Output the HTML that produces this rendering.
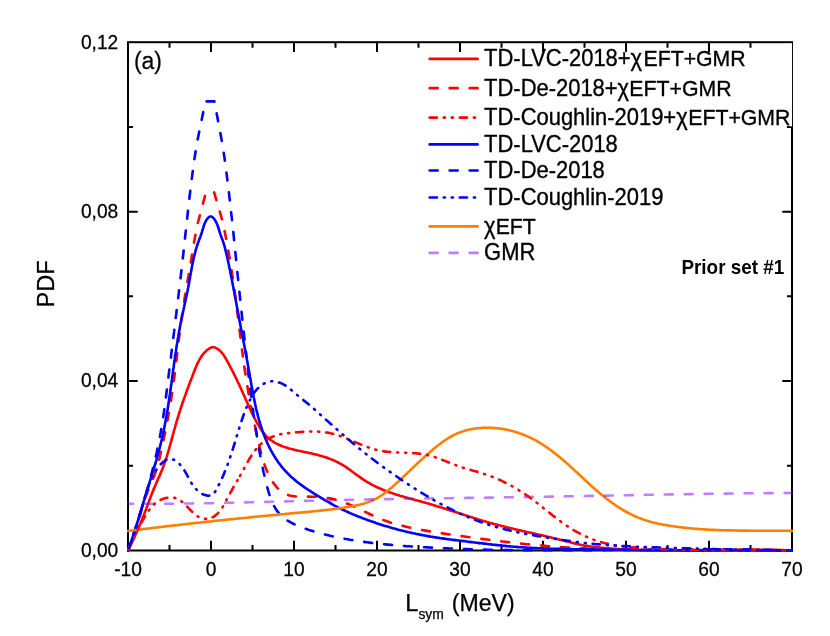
<!DOCTYPE html>
<html><head><meta charset="utf-8"><title>PDF of Lsym</title>
<style>html,body{margin:0;padding:0;background:#fff;}body{width:830px;height:636px;overflow:hidden;position:relative;font-family:"Liberation Sans",sans-serif;}</style>
</head><body>
<svg width="830" height="636" viewBox="0 0 830 636" style="position:absolute;left:0;top:0;opacity:0.999;will-change:transform">
<rect x="0" y="0" width="830" height="636" fill="#fff"/>
<rect x="128.0" y="42.2" width="664.0" height="508.3" fill="none" stroke="#000" stroke-width="2"/>
<path d="M169.50,550.5 v-5.5 M169.50,42.2 v5.5 M211.00,550.5 v-9.8 M211.00,42.2 v9.8 M252.50,550.5 v-5.5 M252.50,42.2 v5.5 M294.00,550.5 v-9.8 M294.00,42.2 v9.8 M335.50,550.5 v-5.5 M335.50,42.2 v5.5 M377.00,550.5 v-9.8 M377.00,42.2 v9.8 M418.50,550.5 v-5.5 M418.50,42.2 v5.5 M460.00,550.5 v-9.8 M460.00,42.2 v9.8 M501.50,550.5 v-5.5 M501.50,42.2 v5.5 M543.00,550.5 v-9.8 M543.00,42.2 v9.8 M584.50,550.5 v-5.5 M584.50,42.2 v5.5 M626.00,550.5 v-9.8 M626.00,42.2 v9.8 M667.50,550.5 v-5.5 M667.50,42.2 v5.5 M709.00,550.5 v-9.8 M709.00,42.2 v9.8 M750.50,550.5 v-5.5 M750.50,42.2 v5.5 M128.0,465.78 h5.1 M792.0,465.78 h-5.1 M128.0,381.07 h9.7 M792.0,381.07 h-9.7 M128.0,296.35 h5.1 M792.0,296.35 h-5.1 M128.0,211.63 h9.7 M792.0,211.63 h-9.7 M128.0,126.92 h5.1 M792.0,126.92 h-5.1" stroke="#000" stroke-width="2" fill="none"/>
<rect x="789.5" y="43.25" width="2.55" height="83.05" fill="#fff"/>
<clipPath id="c"><rect x="127.0" y="41.2" width="666.0" height="510.8"/></clipPath>
<g clip-path="url(#c)" fill="none" stroke-width="2.6" stroke-linecap="round" stroke-linejoin="round">
<path d="M128.0,550.5 L128.6,549.4 L129.1,548.3 L129.7,547.1 L130.2,546.0 L130.8,544.9 L131.3,543.7 L131.9,542.6 L132.4,541.5 L132.9,540.4 L133.5,539.2 L134.0,538.1 L134.5,536.9 L135.0,535.8 L135.5,534.7 L136.1,533.5 L136.6,532.4 L137.1,531.2 L137.6,530.1 L138.1,528.9 L138.6,527.8 L139.1,526.6 L139.5,525.5 L140.0,524.3 L140.5,523.2 L141.0,522.0 L141.5,520.9 L141.9,519.7 L142.4,518.5 L142.9,517.4 L143.3,516.2 L143.8,515.1 L144.3,513.9 L144.7,512.7 L145.2,511.5 L145.6,510.4 L146.1,509.2 L146.5,508.0 L146.9,506.9 L147.4,505.7 L147.8,504.5 L148.2,503.3 L148.7,502.2 L149.1,501.0 L149.6,499.8 L150.0,498.6 L150.4,497.5 L150.9,496.3 L151.3,495.1 L151.8,493.9 L152.3,492.8 L152.7,491.6 L153.2,490.4 L153.7,489.3 L154.1,488.1 L154.6,487.0 L155.1,485.8 L155.6,484.7 L156.1,483.5 L156.6,482.4 L157.1,481.3 L157.6,480.1 L158.1,479.0 L158.6,477.8 L159.2,476.7 L159.7,475.5 L160.2,474.4 L160.6,473.3 L161.1,472.1 L161.6,470.9 L162.1,469.8 L162.5,468.6 L163.0,467.5 L163.4,466.3 L163.9,465.1 L164.3,463.9 L164.7,462.8 L165.1,461.6 L165.5,460.4 L165.9,459.2 L166.3,458.0 L166.7,456.8 L167.0,455.6 L167.4,454.4 L167.8,453.2 L168.1,452.0 L168.5,450.8 L168.8,449.6 L169.2,448.4 L169.5,447.1 L169.9,445.9 L170.2,444.7 L170.5,443.5 L170.9,442.3 L171.2,441.1 L171.5,439.9 L171.9,438.7 L172.2,437.4 L172.5,436.2 L172.8,435.0 L173.2,433.8 L173.5,432.6 L173.8,431.4 L174.2,430.2 L174.5,429.0 L174.9,427.8 L175.2,426.5 L175.5,425.3 L175.9,424.1 L176.2,422.9 L176.6,421.8 L176.9,420.6 L177.3,419.4 L177.7,418.2 L178.0,417.0 L178.4,415.8 L178.8,414.6 L179.1,413.4 L179.5,412.2 L179.9,411.0 L180.3,409.9 L180.7,408.7 L181.0,407.5 L181.4,406.3 L181.8,405.1 L182.2,404.0 L182.6,402.8 L183.0,401.6 L183.4,400.4 L183.8,399.3 L184.2,398.1 L184.7,396.9 L185.1,395.7 L185.5,394.6 L185.9,393.4 L186.3,392.2 L186.8,391.0 L187.2,389.8 L187.6,388.7 L188.1,387.5 L188.5,386.3 L188.9,385.1 L189.4,384.0 L189.8,382.8 L190.3,381.6 L190.7,380.4 L191.2,379.2 L191.6,378.1 L192.1,376.9 L192.5,375.7 L193.0,374.5 L193.4,373.3 L193.9,372.1 L194.4,370.9 L194.9,369.8 L195.3,368.6 L195.8,367.4 L196.3,366.2 L196.8,365.0 L197.3,363.9 L197.9,362.7 L198.4,361.6 L199.0,360.5 L199.6,359.4 L200.2,358.3 L200.9,357.3 L201.6,356.2 L202.3,355.2 L203.0,354.3 L203.8,353.3 L204.6,352.4 L205.5,351.6 L206.4,350.7 L207.3,349.9 L208.3,349.2 L209.3,348.5 L210.4,347.9 L211.5,347.4 L212.7,347.2 L213.9,347.3 L215.1,347.6 L216.2,348.1 L217.4,348.8 L218.4,349.5 L219.4,350.3 L220.3,351.1 L221.2,352.0 L222.0,353.0 L222.8,354.0 L223.6,355.0 L224.3,356.1 L224.9,357.1 L225.6,358.2 L226.2,359.4 L226.8,360.5 L227.5,361.6 L228.1,362.7 L228.7,363.8 L229.3,364.9 L229.9,366.0 L230.4,367.2 L231.0,368.3 L231.6,369.4 L232.2,370.5 L232.8,371.6 L233.3,372.7 L233.9,373.8 L234.4,374.9 L235.0,376.1 L235.5,377.2 L236.1,378.3 L236.6,379.4 L237.2,380.5 L237.7,381.7 L238.2,382.8 L238.8,383.9 L239.3,385.0 L239.8,386.2 L240.3,387.3 L240.9,388.4 L241.4,389.6 L241.9,390.7 L242.4,391.8 L242.9,393.0 L243.4,394.1 L243.9,395.3 L244.4,396.4 L244.9,397.6 L245.4,398.7 L245.9,399.9 L246.5,401.0 L247.0,402.2 L247.5,403.3 L248.0,404.5 L248.5,405.6 L249.0,406.8 L249.6,407.9 L250.1,409.1 L250.6,410.2 L251.1,411.3 L251.7,412.5 L252.2,413.6 L252.8,414.7 L253.3,415.8 L253.9,417.0 L254.5,418.1 L255.1,419.2 L255.7,420.3 L256.2,421.4 L256.8,422.5 L257.5,423.6 L258.1,424.7 L258.7,425.7 L259.4,426.8 L260.0,427.9 L260.7,428.9 L261.4,429.9 L262.1,431.0 L262.8,432.0 L263.6,432.9 L264.3,433.9 L265.1,434.9 L266.0,435.8 L266.8,436.7 L267.7,437.5 L268.7,438.4 L269.7,439.2 L270.7,440.0 L271.7,440.7 L272.8,441.4 L273.9,442.1 L275.0,442.8 L276.1,443.4 L277.2,443.9 L278.3,444.5 L279.5,445.0 L280.6,445.5 L281.8,446.0 L282.9,446.4 L284.1,446.9 L285.3,447.3 L286.5,447.6 L287.7,448.0 L288.9,448.4 L290.1,448.7 L291.3,449.0 L292.5,449.3 L293.7,449.6 L294.9,449.9 L296.1,450.2 L297.3,450.5 L298.6,450.7 L299.8,451.0 L301.0,451.2 L302.2,451.5 L303.5,451.8 L304.7,452.0 L305.9,452.3 L307.1,452.5 L308.4,452.8 L309.6,453.1 L310.8,453.3 L312.0,453.6 L313.2,453.9 L314.5,454.2 L315.7,454.5 L316.9,454.8 L318.1,455.1 L319.3,455.4 L320.5,455.8 L321.7,456.1 L322.9,456.5 L324.1,456.8 L325.3,457.2 L326.5,457.6 L327.7,458.0 L328.9,458.5 L330.0,458.9 L331.2,459.4 L332.4,459.8 L333.5,460.3 L334.7,460.8 L335.8,461.4 L337.0,461.9 L338.1,462.5 L339.2,463.1 L340.3,463.7 L341.4,464.3 L342.5,464.9 L343.6,465.5 L344.6,466.2 L345.7,466.9 L346.7,467.6 L347.7,468.3 L348.8,469.0 L349.8,469.7 L350.8,470.5 L351.8,471.2 L352.8,472.0 L353.8,472.7 L354.8,473.5 L355.8,474.2 L356.8,474.9 L357.8,475.7 L358.8,476.4 L359.8,477.1 L360.9,477.9 L361.9,478.6 L362.9,479.3 L364.0,480.0 L365.1,480.6 L366.1,481.3 L367.2,482.0 L368.3,482.6 L369.4,483.2 L370.5,483.9 L371.6,484.5 L372.7,485.1 L373.8,485.6 L374.9,486.2 L376.0,486.8 L377.2,487.3 L378.3,487.8 L379.5,488.3 L380.6,488.8 L381.7,489.3 L382.9,489.8 L384.1,490.3 L385.2,490.7 L386.4,491.2 L387.6,491.6 L388.7,492.0 L389.9,492.4 L391.1,492.8 L392.3,493.3 L393.5,493.6 L394.6,494.0 L395.8,494.4 L397.0,494.8 L398.2,495.1 L399.4,495.5 L400.6,495.9 L401.8,496.2 L403.0,496.6 L404.2,496.9 L405.4,497.3 L406.6,497.6 L407.9,497.9 L409.1,498.3 L410.3,498.6 L411.5,498.9 L412.7,499.2 L413.9,499.6 L415.1,499.9 L416.3,500.2 L417.5,500.6 L418.8,500.9 L420.0,501.2 L421.2,501.6 L422.4,501.9 L423.6,502.2 L424.8,502.6 L426.0,502.9 L427.2,503.3 L428.4,503.6 L429.6,504.0 L430.8,504.3 L432.0,504.7 L433.2,505.1 L434.4,505.4 L435.6,505.8 L436.8,506.2 L438.0,506.5 L439.2,506.9 L440.4,507.3 L441.6,507.6 L442.8,508.0 L444.0,508.4 L445.2,508.8 L446.3,509.1 L447.5,509.5 L448.7,509.9 L449.9,510.3 L451.1,510.7 L452.3,511.1 L453.5,511.4 L454.7,511.8 L455.9,512.2 L457.1,512.6 L458.3,513.0 L459.4,513.4 L460.6,513.8 L461.8,514.1 L463.0,514.5 L464.2,514.9 L465.4,515.3 L466.6,515.7 L467.8,516.1 L469.0,516.5 L470.2,516.8 L471.4,517.2 L472.6,517.6 L473.8,518.0 L475.0,518.3 L476.2,518.7 L477.3,519.1 L478.5,519.5 L479.7,519.8 L480.9,520.2 L482.1,520.6 L483.3,520.9 L484.5,521.3 L485.7,521.6 L486.9,522.0 L488.1,522.3 L489.4,522.7 L490.6,523.0 L491.8,523.3 L493.0,523.7 L494.2,524.0 L495.4,524.3 L496.6,524.6 L497.8,525.0 L499.0,525.3 L500.2,525.6 L501.4,525.9 L502.7,526.2 L503.9,526.5 L505.1,526.8 L506.3,527.1 L507.5,527.4 L508.7,527.7 L510.0,528.0 L511.2,528.3 L512.4,528.6 L513.6,528.9 L514.8,529.2 L516.0,529.4 L517.3,529.7 L518.5,530.0 L519.7,530.3 L520.9,530.6 L522.1,530.9 L523.4,531.1 L524.6,531.4 L525.8,531.7 L527.0,532.0 L528.3,532.2 L529.5,532.5 L530.7,532.8 L531.9,533.1 L533.1,533.4 L534.4,533.6 L535.6,533.9 L536.8,534.2 L538.0,534.5 L539.2,534.7 L540.5,535.0 L541.7,535.3 L542.9,535.6 L544.1,535.9 L545.3,536.1 L546.6,536.4 L547.8,536.7 L549.0,537.0 L550.2,537.3 L551.4,537.6 L552.7,537.9 L553.9,538.2 L555.1,538.5 L556.3,538.8 L557.5,539.1 L558.7,539.4 L560.0,539.7 L561.2,540.0 L562.4,540.3 L563.6,540.6 L564.8,540.9 L566.0,541.2 L567.2,541.5 L568.5,541.8 L569.7,542.1 L570.9,542.5 L572.1,542.8 L573.3,543.1 L574.5,543.4 L575.8,543.6 L577.0,543.9 L578.2,544.2 L579.4,544.5 L580.6,544.7 L581.9,545.0 L583.1,545.2 L584.3,545.5 L585.6,545.7 L586.8,545.9 L588.0,546.1 L589.3,546.3 L590.5,546.5 L591.7,546.7 L593.0,546.8 L594.2,547.0 L595.5,547.1 L596.7,547.3 L598.0,547.4 L599.2,547.5 L600.4,547.7 L601.7,547.8 L602.9,547.9 L604.2,548.0 L605.4,548.1 L606.7,548.2 L607.9,548.3 L609.2,548.4 L610.4,548.5 L611.7,548.6 L612.9,548.7 L614.2,548.8 L615.4,548.9 L616.7,549.0 L617.9,549.0 L619.2,549.1 L620.4,549.2 L621.7,549.3 L622.9,549.3 L624.2,549.4 L625.4,549.5 L626.7,549.5 L627.9,549.6 L629.2,549.6 L630.4,549.7 L631.7,549.8 L632.9,549.8 L634.2,549.9 L635.4,549.9 L636.7,549.9 L637.9,550.0 L639.2,550.0 L640.4,550.1 L641.7,550.1 L643.0,550.1 L644.2,550.2 L645.5,550.2 L646.7,550.2 L648.0,550.2 L649.2,550.3 L650.5,550.3 L651.7,550.3 L653.0,550.3 L654.2,550.3 L655.5,550.4 L656.7,550.4 L658.0,550.4 L659.2,550.4 L660.5,550.4 L661.7,550.4 L663.0,550.4 L664.2,550.4 L665.5,550.4 L666.7,550.4 L668.0,550.4 L669.3,550.4 L670.5,550.4 L671.8,550.4 L673.0,550.4 L674.3,550.4 L675.5,550.4 L676.8,550.4 L678.0,550.4 L679.3,550.4 L680.5,550.4 L681.8,550.4 L683.0,550.4 L684.3,550.3 L685.5,550.3 L686.8,550.3 L688.1,550.3 L689.3,550.3 L690.6,550.3 L691.8,550.3 L693.1,550.3 L694.3,550.2 L695.6,550.2 L696.8,550.2 L698.1,550.2 L699.3,550.2 L700.6,550.1 L701.8,550.1 L703.1,550.1 L704.4,550.1 L705.6,550.1 L706.9,550.1 L708.1,550.0 L709.4,550.0 L710.6,550.0 L711.9,550.0 L713.1,550.0 L714.4,549.9 L715.6,549.9 L716.9,549.9 L718.1,549.9 L719.4,549.9 L720.6,549.8 L721.9,549.8 L723.2,549.8 L724.4,549.8 L725.7,549.8 L726.9,549.8 L728.2,549.8 L729.4,549.7 L730.7,549.7 L731.9,549.7 L733.2,549.7 L734.4,549.7 L735.7,549.7 L736.9,549.7 L738.2,549.7 L739.4,549.6 L740.7,549.6 L742.0,549.6 L743.2,549.6 L744.5,549.6 L745.7,549.6 L747.0,549.6 L748.2,549.6 L749.5,549.6 L750.7,549.6 L752.0,549.6 L753.2,549.6 L754.5,549.6 L755.7,549.6 L757.0,549.6 L758.2,549.6 L759.5,549.6 L760.7,549.7 L762.0,549.7 L763.2,549.7 L764.5,549.7 L765.7,549.7 L767.0,549.7 L768.2,549.7 L769.5,549.8 L770.7,549.8 L772.0,549.8 L773.2,549.8 L774.5,549.9 L775.8,549.9 L777.0,549.9 L778.3,550.0 L779.5,550.0 L780.8,550.1 L782.0,550.1 L783.3,550.1 L784.5,550.2 L785.8,550.2 L787.0,550.3 L788.3,550.3 L789.5,550.4 L790.8,550.4 L792.0,550.5" stroke="#ff0000"/>
<path d="M128.0,550.5 L128.8,548.9 L129.6,547.4 L130.3,545.8 L131.0,544.2 L131.7,542.6 L132.3,541.0 L132.9,539.4 L133.5,537.8 L134.1,536.2 L134.6,534.5 L135.2,532.9 L135.7,531.2 L136.2,529.6 L136.7,527.9 L137.1,526.3 L137.6,524.6 L138.0,522.9 L138.5,521.3 L138.9,519.6 L139.4,517.9 L139.8,516.3 L140.3,514.6 L140.7,512.9 L141.2,511.3 L141.6,509.6 L142.1,507.9 L142.6,506.3 L143.1,504.6 L143.6,503.0 L144.1,501.3 L144.7,499.7 L145.2,498.1 L145.8,496.4 L146.4,494.8 L147.0,493.2 L147.7,491.6 L148.3,490.0 L149.0,488.4 L149.7,486.8 L150.4,485.2 L151.0,483.6 L151.7,482.0 L152.4,480.4 L153.0,478.8 L153.6,477.2 L154.3,475.6 L154.9,474.0 L155.4,472.4 L156.0,470.7 L156.5,469.1 L157.0,467.5 L157.5,465.8 L157.9,464.1 L158.4,462.5 L158.8,460.8 L159.3,459.1 L159.7,457.5 L160.1,455.8 L160.5,454.1 L160.8,452.4 L161.2,450.7 L161.6,449.1 L162.0,447.4 L162.3,445.7 L162.7,444.0 L163.1,442.3 L163.4,440.6 L163.8,438.9 L164.1,437.2 L164.5,435.5 L164.8,433.9 L165.2,432.2 L165.5,430.5 L165.8,428.8 L166.2,427.1 L166.5,425.4 L166.8,423.7 L167.2,422.0 L167.5,420.3 L167.8,418.6 L168.1,416.9 L168.4,415.2 L168.7,413.5 L169.1,411.8 L169.3,410.1 L169.6,408.4 L169.9,406.7 L170.2,405.0 L170.5,403.3 L170.8,401.6 L171.1,399.9 L171.3,398.2 L171.6,396.5 L171.8,394.8 L172.1,393.1 L172.4,391.4 L172.6,389.7 L172.8,388.0 L173.1,386.3 L173.3,384.6 L173.6,382.9 L173.8,381.2 L174.0,379.4 L174.2,377.7 L174.5,376.0 L174.7,374.3 L174.9,372.6 L175.1,370.9 L175.3,369.2 L175.5,367.5 L175.7,365.7 L176.0,364.0 L176.2,362.3 L176.4,360.6 L176.6,358.9 L176.8,357.2 L177.0,355.5 L177.2,353.8 L177.4,352.0 L177.6,350.3 L177.8,348.6 L178.0,346.9 L178.2,345.2 L178.4,343.5 L178.6,341.8 L178.8,340.0 L179.0,338.3 L179.2,336.6 L179.5,334.9 L179.7,333.2 L179.9,331.5 L180.1,329.8 L180.3,328.0 L180.5,326.3 L180.8,324.6 L181.0,322.9 L181.2,321.2 L181.5,319.5 L181.7,317.8 L181.9,316.1 L182.2,314.4 L182.4,312.7 L182.7,311.0 L182.9,309.2 L183.2,307.5 L183.5,305.8 L183.7,304.1 L184.0,302.4 L184.3,300.7 L184.5,299.0 L184.8,297.3 L185.1,295.6 L185.4,293.9 L185.7,292.2 L186.0,290.5 L186.2,288.8 L186.5,287.1 L186.8,285.4 L187.1,283.7 L187.4,282.0 L187.7,280.3 L188.0,278.6 L188.3,276.9 L188.6,275.2 L188.8,273.5 L189.1,271.8 L189.4,270.1 L189.7,268.4 L190.0,266.7 L190.3,265.0 L190.6,263.3 L190.9,261.6 L191.2,259.9 L191.5,258.2 L191.7,256.5 L192.0,254.8 L192.3,253.1 L192.6,251.4 L192.9,249.7 L193.2,248.0 L193.4,246.2 L193.7,244.5 L194.0,242.8 L194.3,241.1 L194.6,239.4 L194.9,237.7 L195.2,236.0 L195.5,234.3 L195.8,232.7 L196.1,231.0 L196.4,229.3 L196.8,227.6 L197.1,225.9 L197.2,225.4 L205.5,194.0 L213.8,191.2 L222.1,219.6 L222.2,220.1 L222.6,221.8 L223.0,223.5 L223.3,225.2 L223.7,226.9 L224.1,228.6 L224.4,230.3 L224.8,232.0 L225.1,233.7 L225.5,235.4 L225.8,237.0 L226.1,238.7 L226.5,240.4 L226.8,242.1 L227.1,243.8 L227.4,245.5 L227.7,247.2 L228.0,248.9 L228.3,250.6 L228.6,252.3 L228.9,254.0 L229.2,255.7 L229.5,257.4 L229.8,259.1 L230.1,260.8 L230.4,262.5 L230.6,264.2 L230.9,265.9 L231.2,267.6 L231.4,269.3 L231.7,271.0 L232.0,272.7 L232.2,274.4 L232.5,276.1 L232.7,277.8 L233.0,279.6 L233.2,281.3 L233.5,283.0 L233.7,284.7 L234.0,286.4 L234.2,288.1 L234.4,289.8 L234.7,291.5 L234.9,293.2 L235.1,294.9 L235.3,296.6 L235.6,298.3 L235.8,300.0 L236.0,301.8 L236.2,303.5 L236.5,305.2 L236.7,306.9 L236.9,308.6 L237.1,310.3 L237.3,312.0 L237.5,313.7 L237.7,315.4 L238.0,317.2 L238.2,318.9 L238.4,320.6 L238.6,322.3 L238.8,324.0 L239.0,325.7 L239.2,327.4 L239.4,329.1 L239.6,330.9 L239.9,332.6 L240.1,334.3 L240.3,336.0 L240.5,337.7 L240.7,339.4 L240.9,341.1 L241.1,342.8 L241.4,344.6 L241.6,346.3 L241.8,348.0 L242.0,349.7 L242.2,351.4 L242.5,353.1 L242.7,354.8 L242.9,356.5" stroke="#ff0000" stroke-dasharray="8.0 12.0" stroke-dashoffset="3.80"/>
<path d="M242.9,356.5 L243.2,358.2 L243.4,360.0 L243.6,361.7 L243.9,363.4 L244.1,365.1 L244.3,366.8 L244.6,368.5 L244.8,370.2 L245.1,371.9 L245.3,373.6 L245.6,375.3 L245.9,377.1 L246.1,378.8 L246.4,380.5 L246.7,382.2 L246.9,383.9 L247.2,385.6 L247.5,387.3 L247.8,389.0 L248.1,390.7 L248.4,392.4 L248.7,394.1 L249.0,395.8 L249.3,397.5 L249.6,399.2 L249.9,400.9 L250.2,402.6 L250.5,404.3 L250.8,406.0 L251.2,407.7 L251.5,409.4 L251.8,411.1 L252.2,412.8 L252.5,414.5 L252.8,416.2 L253.2,417.9 L253.5,419.6 L253.9,421.3 L254.2,423.0 L254.6,424.6 L255.0,426.3 L255.3,428.0 L255.7,429.7 L256.1,431.4 L256.4,433.1 L256.8,434.7 L257.2,436.4 L257.6,438.1 L258.0,439.8 L258.3,441.4 L258.7,443.1 L259.1,444.8 L259.5,446.5 L259.9,448.1 L260.3,449.8 L260.7,451.5 L261.1,453.1 L261.6,454.8 L262.0,456.4 L262.5,458.1 L263.0,459.7 L263.4,461.4 L264.0,463.0 L264.5,464.6 L265.1,466.3 L265.7,467.9 L266.3,469.5 L267.0,471.1 L267.7,472.8 L268.5,474.4 L269.2,476.0 L270.1,477.5 L270.9,479.1 L271.9,480.6 L272.8,482.1 L273.8,483.5 L274.9,484.9 L276.0,486.3 L277.1,487.6 L278.3,488.8 L279.6,489.9 L280.8,491.0 L282.2,492.0 L283.6,492.9 L285.0,493.7 L286.5,494.4 L288.0,494.9 L289.6,495.4 L291.3,495.8 L293.0,496.1 L294.7,496.3 L296.4,496.5 L298.2,496.6 L300.0,496.6 L301.8,496.6 L303.6,496.6 L305.4,496.6 L307.2,496.6 L308.9,496.6 L310.7,496.7 L312.5,496.7 L314.2,496.7 L315.9,496.8 L317.7,496.9 L319.4,497.0 L321.1,497.2 L322.8,497.3 L324.5,497.5 L326.1,497.7 L327.8,498.0 L329.5,498.3 L331.1,498.6 L332.8,498.9 L334.5,499.3 L336.1,499.8 L337.8,500.2 L339.4,500.7 L341.0,501.3 L342.7,501.9 L344.3,502.5 L345.9,503.1 L347.6,503.7 L349.2,504.4 L350.8,505.1 L352.4,505.8 L354.0,506.5 L355.5,507.3 L357.1,508.0 L358.7,508.7 L360.2,509.5 L361.8,510.2 L363.3,511.0 L364.9,511.7 L366.4,512.5 L368.0,513.2 L369.5,514.0 L371.1,514.7 L372.6,515.4 L374.2,516.2 L375.7,516.9 L377.3,517.5 L378.9,518.2 L380.4,518.9 L382.0,519.5 L383.6,520.1 L385.2,520.7 L386.9,521.3 L388.5,521.8 L390.2,522.4 L391.8,522.9 L393.5,523.4 L395.1,523.9 L396.8,524.4 L398.5,524.8 L400.2,525.2 L401.9,525.7 L403.5,526.1 L405.2,526.5 L406.9,526.9 L408.6,527.3 L410.3,527.7 L412.0,528.0 L413.7,528.4 L415.3,528.7 L417.0,529.1 L418.7,529.4 L420.4,529.7 L422.1,530.0 L423.8,530.3 L425.5,530.6 L427.2,530.9 L428.9,531.2 L430.6,531.5 L432.3,531.8 L434.0,532.0 L435.7,532.3 L437.4,532.6 L439.1,532.8 L440.8,533.1 L442.5,533.4 L444.2,533.6 L445.9,533.9 L447.6,534.1 L449.3,534.4 L451.0,534.6 L452.7,534.8 L454.4,535.1 L456.2,535.3 L457.9,535.6 L459.6,535.8 L461.3,536.1 L463.0,536.3 L464.7,536.5 L466.4,536.8 L468.1,537.0 L469.8,537.2 L471.5,537.5 L473.2,537.7 L474.9,537.9 L476.6,538.2 L478.4,538.4 L480.1,538.6 L481.8,538.9 L483.5,539.1 L485.2,539.3 L486.9,539.5 L488.6,539.8 L490.3,540.0 L492.1,540.2 L493.8,540.4 L495.5,540.6 L497.2,540.8 L498.9,541.1 L500.6,541.3 L502.3,541.5 L504.0,541.7 L505.8,541.9 L507.5,542.1 L509.2,542.3 L510.9,542.5 L512.6,542.7 L514.3,542.9 L516.1,543.1 L517.8,543.2 L519.5,543.4 L521.2,543.6 L522.9,543.8 L524.6,544.0 L526.4,544.2 L528.1,544.3 L529.8,544.5 L531.5,544.7 L533.2,544.8 L534.9,545.0 L536.7,545.2 L538.4,545.3 L540.1,545.5 L541.8,545.6 L543.5,545.8 L545.3,545.9 L547.0,546.1 L548.7,546.2 L550.4,546.3 L552.1,546.5 L553.9,546.6 L555.6,546.7 L557.3,546.9 L559.0,547.0 L560.8,547.1 L562.5,547.2 L564.2,547.3 L565.9,547.5 L567.6,547.6 L569.4,547.7 L571.1,547.8 L572.8,547.9 L574.5,548.0 L576.3,548.1 L578.0,548.2 L579.7,548.3 L581.4,548.3 L583.1,548.4 L584.9,548.5 L586.6,548.6 L588.3,548.7 L590.0,548.7 L591.8,548.8 L593.5,548.9 L595.2,549.0 L596.9,549.0 L598.7,549.1 L600.4,549.2 L602.1,549.2 L603.8,549.3 L605.6,549.3 L607.3,549.4 L609.0,549.5 L610.7,549.5 L612.5,549.6 L614.2,549.6 L615.9,549.6 L617.6,549.7 L619.4,549.7 L621.1,549.8 L622.8,549.8 L624.6,549.9 L626.3,549.9 L628.0,549.9 L629.7,550.0 L631.5,550.0 L633.2,550.0 L634.9,550.0 L636.6,550.1 L638.4,550.1 L640.1,550.1 L641.8,550.1 L643.5,550.2 L645.3,550.2 L647.0,550.2 L648.7,550.2 L650.5,550.2 L652.2,550.3 L653.9,550.3 L655.6,550.3 L657.4,550.3 L659.1,550.3 L660.8,550.3 L662.5,550.3 L664.3,550.3 L666.0,550.3 L667.7,550.3 L669.5,550.3 L671.2,550.4 L672.9,550.4 L674.6,550.4 L676.4,550.4 L678.1,550.4 L679.8,550.4 L681.6,550.4 L683.3,550.4 L685.0,550.4 L686.7,550.4 L688.5,550.4 L690.2,550.4 L691.9,550.4 L693.6,550.4 L695.4,550.3 L697.1,550.3 L698.8,550.3 L700.6,550.3 L702.3,550.3 L704.0,550.3 L705.7,550.3 L707.5,550.3 L709.2,550.3 L710.9,550.3 L712.6,550.3 L714.4,550.3 L716.1,550.3 L717.8,550.3 L719.6,550.3 L721.3,550.3 L723.0,550.3 L724.7,550.3 L726.5,550.3 L728.2,550.2 L729.9,550.2 L731.6,550.2 L733.4,550.2 L735.1,550.2 L736.8,550.2 L738.5,550.2 L740.3,550.2 L742.0,550.2 L743.7,550.2 L745.5,550.2 L747.2,550.2 L748.9,550.2 L750.6,550.2 L752.4,550.2 L754.1,550.2 L755.8,550.2 L757.5,550.2 L759.3,550.2 L761.0,550.2 L762.7,550.2 L764.4,550.2 L766.2,550.3 L767.9,550.3 L769.6,550.3 L771.3,550.3 L773.0,550.3 L774.8,550.3 L776.5,550.3 L778.2,550.3 L779.9,550.4 L781.7,550.4 L783.4,550.4 L785.1,550.4 L786.8,550.4 L788.6,550.5 L790.3,550.5 L792.0,550.5" stroke="#ff0000" stroke-dasharray="8.0 12.0" stroke-dashoffset="9.86"/>
<path d="M128.0,550.5 L128.6,549.0 L129.1,547.4 L129.7,545.9 L130.2,544.4 L130.7,542.8 L131.3,541.3 L131.8,539.7 L132.3,538.2 L132.8,536.6 L133.4,535.1 L133.9,533.5 L134.4,532.0 L134.9,530.4 L135.4,528.9 L135.8,527.3 L136.3,525.8 L136.8,524.2 L137.3,522.7 L137.8,521.1 L138.3,519.6 L138.7,518.0 L139.2,516.5 L139.7,514.9 L140.1,513.3 L140.6,511.8 L141.1,510.2 L141.6,508.7 L142.0,507.1 L142.5,505.5 L143.0,504.0 L143.4,502.4 L143.9,500.9 L144.4,499.3 L144.8,497.8 L145.3,496.2 L145.8,494.6 L146.3,493.1 L146.8,491.5 L147.2,490.0 L147.7,488.4 L148.2,486.8 L148.7,485.3 L149.2,483.7 L149.7,482.2 L150.1,480.6 L150.6,479.1 L151.1,477.5 L151.6,475.9 L152.1,474.4 L152.5,472.8 L153.0,471.3 L153.5,469.7 L154.0,468.1 L154.4,466.6 L154.9,465.0 L155.4,463.5 L155.8,461.9 L156.3,460.3 L156.7,458.8 L157.2,457.2 L157.6,455.6 L158.1,454.1 L158.5,452.5 L158.9,450.9 L159.3,449.3 L159.7,447.8 L160.1,446.2 L160.5,444.6 L160.9,443.0 L161.3,441.4 L161.7,439.9 L162.1,438.3 L162.4,436.7 L162.8,435.1 L163.1,433.5 L163.5,431.9 L163.8,430.3 L164.1,428.7 L164.4,427.1 L164.7,425.5 L165.0,423.9 L165.3,422.3 L165.6,420.7 L165.9,419.1 L166.2,417.5 L166.5,415.9 L166.8,414.3 L167.0,412.7 L167.3,411.1 L167.6,409.5 L167.8,407.9 L168.1,406.3 L168.3,404.7 L168.6,403.1 L168.8,401.4 L169.1,399.8 L169.3,398.2 L169.5,396.6 L169.8,395.0 L170.0,393.4 L170.2,391.8 L170.5,390.1 L170.7,388.5 L170.9,386.9 L171.1,385.3 L171.4,383.7 L171.6,382.1 L171.8,380.4 L172.0,378.8 L172.2,377.2 L172.5,375.6 L172.7,374.0 L172.9,372.4 L173.1,370.7 L173.3,369.1 L173.6,367.5 L173.8,365.9 L174.0,364.3 L174.2,362.7 L174.5,361.1 L174.7,359.4 L174.9,357.8 L175.1,356.2 L175.4,354.6 L175.6,353.0 L175.9,351.4 L176.1,349.8 L176.3,348.2 L176.6,346.6 L176.8,345.0 L177.1,343.4 L177.4,341.7 L177.6,340.1 L177.9,338.5 L178.2,336.9 L178.4,335.3 L178.7,333.7 L179.0,332.1 L179.3,330.5 L179.6,328.9 L179.9,327.3 L180.2,325.7 L180.5,324.1 L180.8,322.5 L181.1,320.9 L181.4,319.3 L181.8,317.7 L182.1,316.2 L182.4,314.6 L182.8,313.0 L183.1,311.4 L183.5,309.8 L183.8,308.2 L184.2,306.6 L184.5,305.0 L184.9,303.4 L185.2,301.8 L185.6,300.2 L185.9,298.6 L186.2,297.1 L186.6,295.5 L186.9,293.9 L187.2,292.3 L187.6,290.7 L187.9,289.1 L188.2,287.5 L188.5,285.9 L188.8,284.3 L189.1,282.7 L189.4,281.0 L189.7,279.4 L190.0,277.8 L190.2,276.2 L190.5,274.6 L190.8,273.0 L191.1,271.4 L191.4,269.8 L191.7,268.2 L192.0,266.6 L192.3,265.0 L192.6,263.4 L193.0,261.8 L193.3,260.2 L193.6,258.6 L194.0,257.0 L194.4,255.5 L194.8,253.9 L195.2,252.3 L195.6,250.7 L196.0,249.2 L196.5,247.6 L197.0,246.1 L197.5,244.5 L198.0,243.0 L198.6,241.4 L199.1,239.9 L199.7,238.4 L200.3,236.9 L200.8,235.3 L201.4,233.8 L201.9,232.2 L202.3,230.7 L202.8,229.1 L203.3,227.6 L203.7,226.0 L204.3,224.4 L205.0,222.8 L205.7,221.3 L206.6,219.7 L207.7,218.3 L208.8,217.2 L210.0,216.5 L211.2,216.5 L212.4,217.1 L213.6,218.2 L214.6,219.6 L215.6,221.1 L216.4,222.7 L217.1,224.3 L217.7,225.8 L218.3,227.4 L218.7,229.0 L219.2,230.5 L219.7,232.1 L220.2,233.6 L220.7,235.1 L221.3,236.7 L221.8,238.2 L222.4,239.7 L222.9,241.2 L223.4,242.7 L223.9,244.3 L224.4,245.8 L224.8,247.4 L225.2,249.0 L225.6,250.6 L226.0,252.2 L226.4,253.8 L226.8,255.4 L227.1,257.0 L227.5,258.5 L227.8,260.1 L228.2,261.7 L228.5,263.3 L228.9,264.9 L229.2,266.5 L229.5,268.1 L229.9,269.7 L230.2,271.3 L230.5,272.9 L230.8,274.5 L231.1,276.1 L231.5,277.7 L231.8,279.3 L232.1,280.9 L232.4,282.5 L232.7,284.1 L233.0,285.7 L233.3,287.3 L233.6,288.9 L233.9,290.5 L234.2,292.1 L234.5,293.7 L234.8,295.3 L235.1,296.9 L235.4,298.5 L235.7,300.1 L236.0,301.7 L236.3,303.3 L236.6,304.9 L236.9,306.5 L237.2,308.1 L237.5,309.7 L237.8,311.3 L238.1,312.9 L238.4,314.5 L238.7,316.1 L239.0,317.7 L239.3,319.3 L239.6,320.9 L239.9,322.5 L240.2,324.1 L240.5,325.7 L240.8,327.3 L241.1,328.9 L241.4,330.5 L241.7,332.1 L242.0,333.7 L242.3,335.3 L242.7,337.0 L243.0,338.6 L243.3,340.2 L243.6,341.8 L243.9,343.4 L244.2,345.0 L244.5,346.6 L244.8,348.2 L245.1,349.8 L245.4,351.4 L245.7,353.0 L246.0,354.6 L246.3,356.2 L246.6,357.8 L246.9,359.4 L247.2,361.0 L247.5,362.6 L247.8,364.2 L248.1,365.8 L248.4,367.4 L248.6,369.0 L248.9,370.6 L249.2,372.2 L249.5,373.8 L249.8,375.4 L250.0,377.0 L250.3,378.5 L250.6,380.1 L250.9,381.7 L251.1,383.3 L251.4,384.9 L251.7,386.5 L252.0,388.1 L252.3,389.7 L252.6,391.3 L252.9,392.9 L253.2,394.5 L253.5,396.2 L253.8,397.8 L254.2,399.4 L254.5,401.0 L254.8,402.6 L255.2,404.2 L255.5,405.8 L255.9,407.4 L256.2,409.0 L256.6,410.6 L257.0,412.1 L257.4,413.7 L257.8,415.3 L258.2,416.9 L258.7,418.5 L259.1,420.1 L259.6,421.6 L260.0,423.2 L260.5,424.8 L261.0,426.3 L261.5,427.9 L262.0,429.4 L262.5,430.9 L263.1,432.5 L263.6,434.0 L264.2,435.5 L264.8,437.0 L265.4,438.5 L266.0,440.0 L266.7,441.5 L267.3,443.0 L268.0,444.5 L268.7,445.9 L269.4,447.4 L270.2,448.8 L270.9,450.3 L271.7,451.7 L272.5,453.1 L273.3,454.5 L274.1,455.9 L275.0,457.3 L275.9,458.7 L276.8,460.0 L277.7,461.4 L278.6,462.7 L279.6,464.0 L280.6,465.3 L281.6,466.6 L282.6,467.9 L283.7,469.1 L284.8,470.3 L285.9,471.5 L287.0,472.7 L288.1,473.9 L289.3,475.0 L290.4,476.1 L291.6,477.2 L292.9,478.3 L294.1,479.4 L295.4,480.4 L296.6,481.5 L297.9,482.5 L299.2,483.5 L300.5,484.4 L301.8,485.4 L303.2,486.4 L304.5,487.3 L305.9,488.2 L307.2,489.1 L308.6,490.0 L310.0,490.9 L311.3,491.8 L312.7,492.7 L314.1,493.6 L315.5,494.4 L316.9,495.3 L318.3,496.1 L319.7,497.0 L321.1,497.8 L322.5,498.7 L323.9,499.5 L325.3,500.3 L326.7,501.1 L328.1,501.9 L329.5,502.7 L330.9,503.5 L332.3,504.3 L333.7,505.1 L335.2,505.9 L336.6,506.6 L338.0,507.4 L339.5,508.1 L340.9,508.8 L342.4,509.5 L343.9,510.2 L345.3,510.9 L346.8,511.6 L348.3,512.3 L349.8,513.0 L351.3,513.6 L352.8,514.3 L354.3,514.9 L355.8,515.5 L357.3,516.1 L358.8,516.7 L360.4,517.3 L361.9,517.9 L363.4,518.5 L364.9,519.1 L366.5,519.6 L368.0,520.2 L369.6,520.7 L371.1,521.3 L372.6,521.8 L374.2,522.3 L375.7,522.9 L377.3,523.4 L378.8,523.9 L380.4,524.4 L381.9,524.9 L383.5,525.4 L385.0,525.9 L386.6,526.3 L388.2,526.8 L389.7,527.3 L391.3,527.7 L392.8,528.2 L394.4,528.6 L396.0,529.0 L397.5,529.5 L399.1,529.9 L400.7,530.3 L402.3,530.7 L403.8,531.1 L405.4,531.5 L407.0,531.9 L408.6,532.2 L410.2,532.6 L411.8,532.9 L413.4,533.3 L414.9,533.6 L416.5,534.0 L418.1,534.3 L419.7,534.6 L421.3,534.9 L422.9,535.2 L424.5,535.5 L426.1,535.8 L427.7,536.1 L429.3,536.4 L430.9,536.7 L432.5,536.9 L434.2,537.2 L435.8,537.4 L437.4,537.7 L439.0,537.9 L440.6,538.2 L442.2,538.4 L443.8,538.6 L445.4,538.8 L447.1,539.1 L448.7,539.3 L450.3,539.5 L451.9,539.7 L453.5,539.9 L455.2,540.1 L456.8,540.3 L458.4,540.5 L460.0,540.7 L461.6,540.9 L463.3,541.1 L464.9,541.3 L466.5,541.5 L468.1,541.7 L469.7,541.9 L471.4,542.1 L473.0,542.3 L474.6,542.5 L476.2,542.7 L477.8,542.9 L479.4,543.1 L481.1,543.3 L482.7,543.4 L484.3,543.6 L485.9,543.8 L487.5,544.0 L489.2,544.2 L490.8,544.4 L492.4,544.6 L494.0,544.7 L495.6,544.9 L497.2,545.1 L498.9,545.3 L500.5,545.4 L502.1,545.6 L503.7,545.8 L505.3,545.9 L507.0,546.1 L508.6,546.2 L510.2,546.4 L511.8,546.5 L513.4,546.7 L515.1,546.8 L516.7,546.9 L518.3,547.1 L519.9,547.2 L521.6,547.3 L523.2,547.4 L524.8,547.5 L526.4,547.6 L528.1,547.7 L529.7,547.8 L531.3,547.9 L532.9,548.0 L534.6,548.1 L536.2,548.1 L537.8,548.2 L539.4,548.3 L541.1,548.3 L542.7,548.4 L544.3,548.5 L546.0,548.5 L547.6,548.6 L549.2,548.6 L550.8,548.7 L552.5,548.7 L554.1,548.8 L555.7,548.8 L557.4,548.9 L559.0,548.9 L560.6,548.9 L562.3,549.0 L563.9,549.0 L565.5,549.0 L567.1,549.1 L568.8,549.1 L570.4,549.1 L572.0,549.1 L573.7,549.2 L575.3,549.2 L576.9,549.2 L578.6,549.2 L580.2,549.3 L581.8,549.3 L583.4,549.3 L585.1,549.3 L586.7,549.3 L588.3,549.4 L590.0,549.4 L591.6,549.4 L593.2,549.4 L594.9,549.5 L596.5,549.5 L598.1,549.5 L599.8,549.5 L601.4,549.5 L603.0,549.6 L604.6,549.6 L606.3,549.6 L607.9,549.6 L609.5,549.7 L611.2,549.7 L612.8,549.7 L614.4,549.7 L616.0,549.7 L617.7,549.8 L619.3,549.8 L620.9,549.8 L622.6,549.8 L624.2,549.8 L625.8,549.8 L627.5,549.9 L629.1,549.9 L630.7,549.9 L632.3,549.9 L634.0,549.9 L635.6,550.0 L637.2,550.0 L638.9,550.0 L640.5,550.0 L642.1,550.0 L643.7,550.0 L645.4,550.0 L647.0,550.1 L648.6,550.1 L650.3,550.1 L651.9,550.1 L653.5,550.1 L655.1,550.1 L656.8,550.2 L658.4,550.2 L660.0,550.2 L661.7,550.2 L663.3,550.2 L664.9,550.2 L666.5,550.2 L668.2,550.2 L669.8,550.3 L671.4,550.3 L673.1,550.3 L674.7,550.3 L676.3,550.3 L677.9,550.3 L679.6,550.3 L681.2,550.3 L682.8,550.4 L684.5,550.4 L686.1,550.4 L687.7,550.4 L689.3,550.4 L691.0,550.4 L692.6,550.4 L694.2,550.4 L695.9,550.4 L697.5,550.4 L699.1,550.5 L700.7,550.5 L702.4,550.5 L704.0,550.5 L705.6,550.5 L707.3,550.5 L708.9,550.5 L710.5,550.5 L712.1,550.5 L713.8,550.5 L715.4,550.5 L717.0,550.5 L718.7,550.5 L720.3,550.5 L721.9,550.5 L723.5,550.5 L725.2,550.5 L726.8,550.5 L728.4,550.5 L730.1,550.5 L731.7,550.5 L733.3,550.5 L734.9,550.5 L736.6,550.5 L738.2,550.5 L739.8,550.5 L741.5,550.5 L743.1,550.5 L744.7,550.5 L746.4,550.5 L748.0,550.5 L749.6,550.5 L751.2,550.5 L752.9,550.5 L754.5,550.5 L756.1,550.5 L757.8,550.5 L759.4,550.5 L761.0,550.5 L762.7,550.5 L764.3,550.5 L765.9,550.5 L767.5,550.5 L769.2,550.5 L770.8,550.5 L772.4,550.5 L774.1,550.5 L775.7,550.5 L777.3,550.5 L779.0,550.5 L780.6,550.5 L782.2,550.5 L783.8,550.5 L785.5,550.5 L787.1,550.5 L788.7,550.5 L790.4,550.5 L792.0,550.5" stroke="#0000ff"/>
<path d="M128.0,550.5 L128.6,548.6 L129.3,546.7 L129.9,544.8 L130.6,542.9 L131.2,541.0 L131.8,539.1 L132.4,537.2 L133.1,535.3 L133.7,533.4 L134.3,531.5 L135.0,529.6 L135.6,527.7 L136.2,525.8 L136.8,523.9 L137.4,522.0 L138.0,520.0 L138.6,518.1 L139.2,516.2 L139.8,514.3 L140.4,512.4 L141.0,510.5 L141.6,508.6 L142.2,506.7 L142.8,504.7 L143.4,502.8 L144.0,500.9 L144.5,499.0 L145.1,497.1 L145.7,495.1 L146.2,493.2 L146.8,491.3 L147.3,489.4 L147.9,487.4 L148.4,485.5 L148.9,483.6 L149.5,481.7 L150.0,479.7 L150.5,477.8 L151.0,475.9 L151.5,473.9 L152.0,472.0 L152.5,470.0 L153.0,468.1 L153.5,466.2 L154.0,464.2 L154.4,462.3 L154.9,460.3 L155.4,458.4 L155.8,456.4 L156.2,454.5 L156.7,452.5 L157.1,450.6 L157.5,448.6 L157.9,446.7 L158.3,444.7 L158.7,442.7 L159.1,440.8 L159.5,438.8 L159.9,436.9 L160.2,434.9 L160.6,432.9 L160.9,431.0 L161.3,429.0 L161.6,427.0 L161.9,425.0 L162.3,423.1 L162.6,421.1 L162.9,419.1 L163.2,417.1 L163.5,415.1 L163.8,413.2 L164.1,411.2 L164.3,409.2 L164.6,407.2 L164.9,405.2 L165.1,403.2 L165.4,401.2 L165.7,399.3 L165.9,397.3 L166.2,395.3 L166.4,393.3 L166.7,391.3 L166.9,389.3 L167.2,387.3 L167.4,385.3 L167.7,383.3 L167.9,381.4 L168.2,379.4 L168.4,377.4 L168.6,375.4 L168.9,373.4 L169.1,371.4 L169.4,369.4 L169.6,367.4 L169.9,365.4 L170.1,363.5 L170.4,361.5 L170.6,359.5 L170.9,357.5 L171.1,355.5 L171.3,353.5 L171.6,351.5 L171.8,349.5 L172.1,347.5 L172.3,345.6 L172.6,343.6 L172.8,341.6 L173.1,339.6 L173.3,337.6 L173.6,335.6 L173.8,333.6 L174.1,331.7 L174.3,329.7 L174.5,327.7 L174.8,325.7 L175.0,323.7 L175.3,321.7 L175.5,319.7 L175.8,317.8 L176.0,315.8 L176.3,313.8 L176.5,311.8 L176.7,309.8 L177.0,307.8 L177.2,305.8 L177.5,303.8 L177.7,301.9 L178.0,299.9 L178.2,297.9 L178.4,295.9 L178.7,293.9 L178.9,291.9 L179.1,289.9 L179.4,287.9 L179.6,286.0 L179.8,284.0 L180.1,282.0 L180.3,280.0 L180.5,278.0 L180.8,276.0 L181.0,274.0 L181.2,272.0 L181.5,270.0 L181.7,268.1 L181.9,266.1 L182.1,264.1 L182.4,262.1 L182.6,260.1 L182.8,258.1 L183.0,256.1 L183.3,254.1 L183.5,252.1 L183.7,250.1 L183.9,248.1 L184.1,246.1 L184.3,244.1 L184.6,242.2 L184.8,240.2 L185.0,238.2 L185.2,236.2 L185.4,234.2 L185.6,232.2 L185.9,230.2 L186.1,228.2 L186.3,226.2 L186.5,224.2 L186.7,222.2 L186.9,220.2 L187.2,218.2 L187.4,216.2 L187.6,214.2 L187.8,212.3 L188.0,210.3 L188.3,208.3 L188.5,206.3 L188.7,204.3 L188.9,202.3 L189.2,200.3 L189.4,198.3 L189.6,196.3 L189.9,194.3 L190.1,192.3 L190.3,190.4 L190.6,188.4 L190.8,186.4 L191.1,184.4 L191.3,182.4 L191.6,180.4 L191.8,178.4 L192.1,176.5 L192.3,174.5 L192.6,172.5 L192.9,170.5 L193.1,168.5 L193.4,166.5 L193.7,164.6 L194.0,162.6 L194.2,160.6 L194.5,158.6 L194.8,156.6 L195.1,154.7 L195.4,152.7 L195.7,150.7 L196.0,148.7 L196.3,146.8 L196.6,144.8 L196.9,143.2 L205.4,101.4 L214.4,101.4 L222.6,145.1 L222.6,145.3 L222.9,147.3 L223.2,149.3 L223.5,151.2 L223.8,153.2 L224.1,155.2 L224.4,157.2 L224.7,159.2 L224.9,161.2 L225.2,163.1 L225.5,165.1 L225.7,167.1 L226.0,169.1 L226.3,171.1 L226.5,173.1 L226.8,175.1 L227.0,177.1 L227.3,179.1 L227.5,181.0 L227.8,183.0 L228.0,185.0 L228.3,187.0 L228.5,189.0 L228.7,191.0 L229.0,193.0 L229.2,195.0 L229.4,197.0 L229.7,199.0 L229.9,200.9 L230.1,202.9 L230.3,204.9 L230.6,206.9 L230.8,208.9 L231.0,210.9 L231.2,212.9 L231.4,214.9 L231.7,216.9 L231.9,218.9 L232.1,220.9 L232.3,222.9 L232.5,224.9 L232.7,226.8 L232.9,228.8 L233.1,230.8 L233.4,232.8 L233.6,234.8 L233.8,236.8 L234.0,238.8 L234.2,240.8 L234.4,242.8 L234.6,244.8 L234.8,246.8 L235.0,248.8 L235.2,250.8 L235.4,252.7 L235.6,254.7 L235.8,256.7 L236.0,258.7 L236.2,260.7 L236.4,262.7 L236.6,264.7 L236.8,266.7 L237.0,268.7 L237.2,270.7 L237.4,272.7 L237.6,274.6 L237.8,276.6 L238.0,278.6 L238.2,280.6 L238.4,282.6 L238.7,284.6 L238.9,286.6 L239.1,288.6 L239.3,290.6 L239.5,292.5 L239.7,294.5 L239.9,296.5 L240.1,298.5 L240.3,300.5 L240.5,302.5 L240.7,304.5 L241.0,306.5 L241.2,308.5 L241.4,310.4 L241.6,312.4 L241.8,314.4 L242.0,316.4 L242.2,318.4 L242.5,320.4 L242.7,322.4 L242.9,324.4 L243.1,326.4 L243.3,328.4 L243.5,330.3 L243.7,332.3 L244.0,334.3 L244.2,336.3 L244.4,338.3 L244.6,340.3 L244.8,342.3 L245.1,344.3 L245.3,346.3 L245.5,348.3 L245.7,350.3 L245.9,352.3" stroke="#0000ff" stroke-dasharray="8.0 12.0" stroke-dashoffset="1.90"/>
<path d="M245.9,352.3 L246.2,354.3 L246.4,356.3 L246.6,358.3 L246.8,360.2 L247.1,362.2 L247.3,364.2 L247.5,366.2 L247.7,368.2 L248.0,370.2 L248.2,372.2 L248.4,374.2 L248.7,376.2 L248.9,378.2 L249.1,380.2 L249.4,382.2 L249.6,384.2 L249.9,386.2 L250.1,388.2 L250.4,390.2 L250.6,392.1 L250.9,394.1 L251.1,396.1 L251.4,398.1 L251.6,400.1 L251.9,402.1 L252.2,404.1 L252.4,406.1 L252.7,408.0 L253.0,410.0 L253.3,412.0 L253.5,414.0 L253.8,416.0 L254.1,418.0 L254.4,419.9 L254.7,421.9 L255.0,423.9 L255.3,425.9 L255.6,427.8 L255.9,429.8 L256.2,431.8 L256.5,433.7 L256.8,435.7 L257.1,437.7 L257.5,439.6 L257.8,441.6 L258.1,443.6 L258.5,445.5 L258.8,447.5 L259.1,449.4 L259.5,451.4 L259.9,453.3 L260.2,455.3 L260.6,457.2 L260.9,459.2 L261.3,461.1 L261.7,463.1 L262.1,465.0 L262.5,467.0 L262.9,468.9 L263.3,470.9 L263.7,472.8 L264.2,474.8 L264.6,476.8 L265.1,478.7 L265.6,480.7 L266.1,482.7 L266.6,484.7 L267.1,486.7 L267.7,488.7 L268.2,490.6 L268.8,492.6 L269.4,494.6 L270.1,496.6 L270.8,498.5 L271.5,500.4 L272.3,502.3 L273.1,504.1 L274.0,505.9 L275.0,507.6 L276.0,509.3 L277.1,510.9 L278.3,512.4 L279.6,513.9 L280.9,515.2 L282.3,516.5 L283.8,517.8 L285.3,518.9 L286.9,520.1 L288.6,521.1 L290.3,522.1 L292.1,523.1 L293.8,524.0 L295.7,524.8 L297.5,525.6 L299.4,526.4 L301.3,527.2 L303.2,527.9 L305.1,528.6 L307.0,529.2 L308.9,529.9 L310.8,530.5 L312.7,531.1 L314.7,531.7 L316.6,532.3 L318.5,532.8 L320.5,533.3 L322.4,533.9 L324.4,534.4 L326.3,534.8 L328.3,535.3 L330.2,535.8 L332.2,536.2 L334.1,536.6 L336.1,537.0 L338.0,537.4 L340.0,537.8 L341.9,538.2 L343.9,538.6 L345.9,539.0 L347.8,539.3 L349.8,539.7 L351.8,540.0 L353.8,540.3 L355.7,540.6 L357.7,540.9 L359.7,541.2 L361.7,541.5 L363.6,541.8 L365.6,542.1 L367.6,542.3 L369.6,542.6 L371.6,542.9 L373.6,543.1 L375.5,543.3 L377.5,543.5 L379.5,543.8 L381.5,544.0 L383.5,544.2 L385.5,544.4 L387.5,544.6 L389.5,544.8 L391.5,544.9 L393.5,545.1 L395.5,545.3 L397.5,545.4 L399.5,545.6 L401.5,545.8 L403.5,545.9 L405.5,546.1 L407.5,546.2 L409.5,546.3 L411.5,546.5 L413.5,546.6 L415.5,546.7 L417.5,546.8 L419.5,547.0 L421.5,547.1 L423.5,547.2 L425.5,547.3 L427.5,547.4 L429.5,547.5 L431.5,547.6 L433.5,547.7 L435.5,547.8 L437.5,547.9 L439.5,548.0 L441.5,548.1 L443.5,548.2 L445.5,548.3 L447.5,548.4 L449.5,548.5 L451.5,548.5 L453.5,548.6 L455.5,548.7 L457.5,548.8 L459.5,548.8 L461.5,548.9 L463.5,549.0 L465.5,549.1 L467.5,549.1 L469.5,549.2 L471.5,549.2 L473.5,549.3 L475.5,549.4 L477.5,549.4 L479.5,549.5 L481.5,549.5 L483.5,549.6 L485.5,549.6 L487.5,549.7 L489.5,549.7 L491.5,549.7 L493.5,549.8 L495.5,549.8 L497.5,549.9 L499.5,549.9 L501.5,549.9 L503.5,550.0 L505.5,550.0 L507.5,550.0 L509.5,550.0 L511.5,550.1 L513.6,550.1 L515.6,550.1 L517.6,550.1 L519.6,550.1 L521.6,550.2 L523.6,550.2 L525.6,550.2 L527.6,550.2 L529.6,550.2 L531.6,550.2 L533.6,550.3 L535.6,550.3 L537.6,550.3 L539.6,550.3 L541.6,550.3 L543.6,550.3 L545.6,550.3 L547.6,550.3 L549.6,550.3 L551.6,550.3 L553.6,550.3 L555.6,550.3 L557.6,550.3 L559.6,550.3 L561.6,550.3 L563.6,550.3 L565.6,550.3 L567.6,550.3 L569.6,550.3 L571.6,550.3 L573.7,550.3 L575.7,550.2 L577.7,550.2 L579.7,550.2 L581.7,550.2 L583.7,550.2 L585.7,550.2 L587.7,550.2 L589.7,550.2 L591.7,550.1 L593.7,550.1 L595.7,550.1 L597.7,550.1 L599.7,550.1 L601.7,550.1 L603.7,550.1 L605.7,550.0 L607.7,550.0 L609.7,550.0 L611.7,550.0 L613.7,550.0 L615.7,550.0 L617.7,549.9 L619.7,549.9 L621.7,549.9 L623.7,549.9 L625.7,549.9 L627.8,549.8 L629.8,549.8 L631.8,549.8 L633.8,549.8 L635.8,549.8 L637.8,549.8 L639.8,549.7 L641.8,549.7 L643.8,549.7 L645.8,549.7 L647.8,549.7 L649.8,549.6 L651.8,549.6 L653.8,549.6 L655.8,549.6 L657.8,549.6 L659.8,549.6 L661.8,549.5 L663.8,549.5 L665.8,549.5 L667.8,549.5 L669.8,549.5 L671.8,549.5 L673.8,549.5 L675.8,549.4 L677.8,549.4 L679.8,549.4 L681.8,549.4 L683.9,549.4 L685.9,549.4 L687.9,549.4 L689.9,549.4 L691.9,549.4 L693.9,549.4 L695.9,549.4 L697.9,549.4 L699.9,549.4 L701.9,549.3 L703.9,549.3 L705.9,549.3 L707.9,549.3 L709.9,549.3 L711.9,549.3 L713.9,549.3 L715.9,549.4 L717.9,549.4 L719.9,549.4 L721.9,549.4 L723.9,549.4 L725.9,549.4 L727.9,549.4 L729.9,549.4 L731.9,549.4 L733.9,549.4 L735.9,549.5 L737.9,549.5 L739.9,549.5 L741.9,549.5 L743.9,549.5 L745.9,549.5 L748.0,549.6 L750.0,549.6 L752.0,549.6 L754.0,549.6 L756.0,549.7 L758.0,549.7 L760.0,549.7 L762.0,549.8 L764.0,549.8 L766.0,549.9 L768.0,549.9 L770.0,549.9 L772.0,550.0 L774.0,550.0 L776.0,550.1 L778.0,550.1 L780.0,550.2 L782.0,550.2 L784.0,550.3 L786.0,550.3 L788.0,550.4 L790.0,550.4 L792.0,550.5" stroke="#0000ff" stroke-dasharray="8.0 12.0" stroke-dashoffset="3.14"/>
<path d="M128.0,531.0 L129.0,530.9 L130.0,530.7 L131.1,530.6 L132.1,530.5 L133.1,530.4 L134.1,530.2 L135.2,530.1 L136.2,530.0 L137.2,529.8 L138.2,529.7 L139.3,529.6 L140.3,529.5 L141.3,529.3 L142.3,529.2 L143.4,529.1 L144.4,529.0 L145.4,528.8 L146.4,528.7 L147.4,528.6 L148.5,528.5 L149.5,528.3 L150.5,528.2 L151.5,528.1 L152.6,528.0 L153.6,527.8 L154.6,527.7 L155.6,527.6 L156.7,527.5 L157.7,527.4 L158.7,527.2 L159.7,527.1 L160.8,527.0 L161.8,526.9 L162.8,526.7 L163.8,526.6 L164.9,526.5 L165.9,526.4 L166.9,526.3 L167.9,526.1 L168.9,526.0 L170.0,525.9 L171.0,525.8 L172.0,525.7 L173.0,525.6 L174.1,525.4 L175.1,525.3 L176.1,525.2 L177.1,525.1 L178.2,525.0 L179.2,524.9 L180.2,524.7 L181.2,524.6 L182.3,524.5 L183.3,524.4 L184.3,524.3 L185.3,524.2 L186.4,524.0 L187.4,523.9 L188.4,523.8 L189.4,523.7 L190.5,523.6 L191.5,523.5 L192.5,523.4 L193.5,523.2 L194.5,523.1 L195.6,523.0 L196.6,522.9 L197.6,522.8 L198.6,522.7 L199.7,522.6 L200.7,522.5 L201.7,522.4 L202.7,522.2 L203.8,522.1 L204.8,522.0 L205.8,521.9 L206.8,521.8 L207.9,521.7 L208.9,521.6 L209.9,521.5 L210.9,521.4 L212.0,521.2 L213.0,521.1 L214.0,521.0 L215.0,520.9 L216.1,520.8 L217.1,520.7 L218.1,520.6 L219.1,520.5 L220.2,520.4 L221.2,520.3 L222.2,520.2 L223.2,520.1 L224.3,520.0 L225.3,519.8 L226.3,519.7 L227.3,519.6 L228.4,519.5 L229.4,519.4 L230.4,519.3 L231.4,519.2 L232.5,519.1 L233.5,519.0 L234.5,518.9 L235.5,518.8 L236.6,518.7 L237.6,518.6 L238.6,518.5 L239.6,518.4 L240.7,518.3 L241.7,518.2 L242.7,518.1 L243.7,518.0 L244.8,517.9 L245.8,517.8 L246.8,517.7 L247.8,517.6 L248.9,517.5 L249.9,517.4 L250.9,517.3 L251.9,517.2 L253.0,517.0 L254.0,516.9 L255.0,516.8 L256.0,516.7 L257.1,516.6 L258.1,516.5 L259.1,516.4 L260.2,516.3 L261.2,516.2 L262.2,516.1 L263.2,516.0 L264.3,515.9 L265.3,515.8 L266.3,515.7 L267.3,515.7 L268.4,515.6 L269.4,515.5 L270.4,515.4 L271.4,515.3 L272.5,515.2 L273.5,515.1 L274.5,515.0 L275.5,514.9 L276.6,514.8 L277.6,514.7 L278.6,514.6 L279.7,514.5 L280.7,514.4 L281.7,514.3 L282.7,514.2 L283.8,514.1 L284.8,514.0 L285.8,513.9 L286.8,513.8 L287.9,513.7 L288.9,513.6 L289.9,513.5 L290.9,513.4 L292.0,513.3 L293.0,513.2 L294.0,513.1 L295.1,513.0 L296.1,512.9 L297.1,512.9 L298.1,512.8 L299.2,512.7 L300.2,512.6 L301.2,512.5 L302.3,512.4 L303.3,512.3 L304.3,512.2 L305.3,512.1 L306.4,512.0 L307.4,511.9 L308.4,511.8 L309.4,511.7 L310.5,511.6 L311.5,511.5 L312.5,511.4 L313.6,511.3 L314.6,511.2 L315.6,511.1 L316.6,511.0 L317.7,510.9 L318.7,510.8 L319.7,510.7 L320.7,510.6 L321.8,510.5 L322.8,510.4 L323.8,510.3 L324.8,510.1 L325.9,510.0 L326.9,509.9 L327.9,509.8 L328.9,509.7 L330.0,509.6 L331.0,509.4 L332.0,509.3 L333.0,509.2 L334.1,509.0 L335.1,508.9 L336.1,508.8 L337.1,508.6 L338.1,508.5 L339.2,508.3 L340.2,508.2 L341.2,508.1 L342.2,507.9 L343.3,507.7 L344.3,507.6 L345.3,507.4 L346.3,507.3 L347.3,507.1 L348.3,506.9 L349.4,506.7 L350.4,506.6 L351.4,506.4 L352.4,506.2 L353.4,506.0 L354.4,505.8 L355.4,505.6 L356.5,505.4 L357.5,505.2 L358.5,505.0 L359.5,504.7 L360.5,504.5 L361.5,504.2 L362.4,504.0 L363.4,503.7 L364.4,503.4 L365.4,503.1 L366.3,502.8 L367.3,502.5 L368.3,502.1 L369.2,501.8 L370.2,501.4 L371.1,501.0 L372.0,500.7 L373.0,500.2 L373.9,499.8 L374.8,499.4 L375.7,498.9 L376.6,498.4 L377.5,497.9 L378.4,497.4 L379.3,496.9 L380.1,496.3 L381.0,495.7 L381.8,495.2 L382.7,494.6 L383.5,494.0 L384.4,493.4 L385.2,492.7 L386.0,492.1 L386.8,491.5 L387.6,490.8 L388.5,490.2 L389.3,489.5 L390.1,488.8 L390.9,488.2 L391.7,487.5 L392.4,486.8 L393.2,486.1 L394.0,485.4 L394.8,484.7 L395.6,484.0 L396.3,483.3 L397.1,482.6 L397.9,481.9 L398.7,481.2 L399.4,480.5 L400.2,479.8 L400.9,479.1 L401.7,478.4 L402.4,477.7 L403.2,477.0 L403.9,476.2 L404.7,475.5 L405.4,474.8 L406.2,474.1 L406.9,473.4 L407.7,472.7 L408.4,472.0 L409.2,471.3 L409.9,470.6 L410.7,469.9 L411.4,469.2 L412.1,468.5 L412.9,467.8 L413.6,467.0 L414.4,466.3 L415.1,465.6 L415.8,464.9 L416.6,464.2 L417.3,463.5 L418.1,462.8 L418.8,462.1 L419.6,461.4 L420.3,460.7 L421.1,460.0 L421.8,459.3 L422.6,458.7 L423.3,458.0 L424.1,457.3 L424.9,456.6 L425.6,455.9 L426.4,455.2 L427.2,454.5 L427.9,453.8 L428.7,453.1 L429.5,452.5 L430.3,451.8 L431.1,451.1 L431.9,450.4 L432.6,449.8 L433.4,449.1 L434.2,448.4 L435.0,447.8 L435.9,447.1 L436.7,446.4 L437.5,445.8 L438.3,445.2 L439.1,444.5 L440.0,443.9 L440.8,443.3 L441.6,442.6 L442.5,442.0 L443.3,441.4 L444.2,440.8 L445.0,440.3 L445.9,439.7 L446.8,439.1 L447.6,438.6 L448.5,438.0 L449.4,437.5 L450.3,437.0 L451.2,436.5 L452.1,436.0 L453.0,435.5 L453.9,435.0 L454.8,434.6 L455.8,434.1 L456.7,433.7 L457.6,433.3 L458.6,432.9 L459.5,432.5 L460.5,432.2 L461.4,431.8 L462.4,431.5 L463.4,431.2 L464.3,430.9 L465.3,430.6 L466.3,430.3 L467.3,430.1 L468.3,429.8 L469.3,429.6 L470.3,429.4 L471.3,429.2 L472.3,429.0 L473.3,428.8 L474.4,428.7 L475.4,428.5 L476.4,428.4 L477.4,428.3 L478.4,428.2 L479.5,428.1 L480.5,428.0 L481.5,427.9 L482.6,427.8 L483.6,427.8 L484.6,427.8 L485.7,427.7 L486.7,427.7 L487.7,427.7 L488.8,427.7 L489.8,427.8 L490.8,427.8 L491.9,427.9 L492.9,427.9 L493.9,428.0 L495.0,428.1 L496.0,428.1 L497.0,428.2 L498.1,428.4 L499.1,428.5 L500.1,428.6 L501.2,428.8 L502.2,428.9 L503.2,429.1 L504.2,429.3 L505.2,429.4 L506.3,429.6 L507.3,429.9 L508.3,430.1 L509.3,430.3 L510.3,430.5 L511.3,430.8 L512.3,431.1 L513.3,431.3 L514.3,431.6 L515.3,431.9 L516.3,432.2 L517.3,432.5 L518.3,432.8 L519.3,433.2 L520.2,433.5 L521.2,433.8 L522.2,434.2 L523.1,434.6 L524.1,434.9 L525.1,435.3 L526.0,435.7 L527.0,436.1 L527.9,436.6 L528.8,437.0 L529.8,437.4 L530.7,437.9 L531.6,438.3 L532.5,438.8 L533.4,439.2 L534.4,439.7 L535.3,440.2 L536.2,440.7 L537.0,441.2 L537.9,441.7 L538.8,442.2 L539.7,442.8 L540.6,443.3 L541.5,443.8 L542.3,444.4 L543.2,444.9 L544.0,445.5 L544.9,446.1 L545.8,446.6 L546.6,447.2 L547.5,447.8 L548.3,448.4 L549.1,449.0 L550.0,449.6 L550.8,450.2 L551.6,450.8 L552.4,451.4 L553.3,452.1 L554.1,452.7 L554.9,453.3 L555.7,454.0 L556.5,454.6 L557.3,455.2 L558.1,455.9 L558.9,456.5 L559.7,457.2 L560.5,457.8 L561.3,458.5 L562.1,459.2 L562.9,459.8 L563.7,460.5 L564.4,461.2 L565.2,461.9 L566.0,462.5 L566.8,463.2 L567.5,463.9 L568.3,464.6 L569.1,465.3 L569.9,466.0 L570.6,466.7 L571.4,467.4 L572.1,468.1 L572.9,468.8 L573.7,469.5 L574.4,470.2 L575.2,470.9 L576.0,471.6 L576.7,472.3 L577.5,473.0 L578.2,473.7 L579.0,474.4 L579.7,475.1 L580.5,475.8 L581.2,476.5 L582.0,477.2 L582.8,477.9 L583.5,478.6 L584.3,479.3 L585.0,480.0 L585.8,480.7 L586.5,481.4 L587.3,482.1 L588.1,482.8 L588.8,483.5 L589.6,484.2 L590.3,484.9 L591.1,485.6 L591.9,486.3 L592.6,487.0 L593.4,487.6 L594.2,488.3 L594.9,489.0 L595.7,489.7 L596.5,490.4 L597.3,491.0 L598.1,491.7 L598.8,492.4 L599.6,493.1 L600.4,493.7 L601.2,494.4 L602.0,495.0 L602.8,495.7 L603.6,496.3 L604.4,497.0 L605.2,497.6 L606.0,498.3 L606.8,498.9 L607.6,499.5 L608.4,500.2 L609.3,500.8 L610.1,501.4 L610.9,502.0 L611.7,502.6 L612.6,503.2 L613.4,503.8 L614.3,504.4 L615.1,505.0 L616.0,505.6 L616.8,506.1 L617.7,506.7 L618.6,507.3 L619.4,507.8 L620.3,508.4 L621.2,508.9 L622.1,509.4 L623.0,510.0 L623.9,510.5 L624.8,511.0 L625.7,511.5 L626.6,512.0 L627.5,512.5 L628.4,513.0 L629.3,513.5 L630.2,513.9 L631.2,514.4 L632.1,514.8 L633.0,515.3 L633.9,515.7 L634.9,516.1 L635.8,516.6 L636.8,517.0 L637.7,517.4 L638.7,517.8 L639.6,518.1 L640.6,518.5 L641.6,518.9 L642.5,519.2 L643.5,519.6 L644.5,519.9 L645.4,520.2 L646.4,520.5 L647.4,520.8 L648.4,521.1 L649.4,521.4 L650.4,521.7 L651.4,522.0 L652.4,522.2 L653.4,522.5 L654.4,522.7 L655.4,523.0 L656.4,523.2 L657.4,523.4 L658.4,523.7 L659.4,523.9 L660.4,524.1 L661.4,524.3 L662.4,524.5 L663.4,524.7 L664.5,524.9 L665.5,525.0 L666.5,525.2 L667.5,525.4 L668.5,525.6 L669.6,525.7 L670.6,525.9 L671.6,526.0 L672.6,526.2 L673.6,526.3 L674.7,526.5 L675.7,526.6 L676.7,526.8 L677.7,526.9 L678.7,527.0 L679.8,527.2 L680.8,527.3 L681.8,527.4 L682.8,527.5 L683.9,527.6 L684.9,527.8 L685.9,527.9 L686.9,528.0 L688.0,528.1 L689.0,528.2 L690.0,528.3 L691.0,528.4 L692.1,528.5 L693.1,528.6 L694.1,528.7 L695.1,528.7 L696.2,528.8 L697.2,528.9 L698.2,529.0 L699.2,529.1 L700.3,529.1 L701.3,529.2 L702.3,529.3 L703.4,529.3 L704.4,529.4 L705.4,529.5 L706.4,529.5 L707.5,529.6 L708.5,529.6 L709.5,529.7 L710.6,529.8 L711.6,529.8 L712.6,529.9 L713.6,529.9 L714.7,529.9 L715.7,530.0 L716.7,530.0 L717.8,530.1 L718.8,530.1 L719.8,530.1 L720.9,530.2 L721.9,530.2 L722.9,530.2 L724.0,530.3 L725.0,530.3 L726.0,530.3 L727.0,530.4 L728.1,530.4 L729.1,530.4 L730.1,530.4 L731.2,530.4 L732.2,530.5 L733.2,530.5 L734.3,530.5 L735.3,530.5 L736.3,530.5 L737.4,530.5 L738.4,530.6 L739.4,530.6 L740.5,530.6 L741.5,530.6 L742.5,530.6 L743.5,530.6 L744.6,530.6 L745.6,530.6 L746.6,530.6 L747.7,530.6 L748.7,530.7 L749.7,530.7 L750.8,530.7 L751.8,530.7 L752.8,530.7 L753.9,530.7 L754.9,530.7 L755.9,530.7 L757.0,530.7 L758.0,530.7 L759.0,530.7 L760.1,530.7 L761.1,530.7 L762.1,530.7 L763.2,530.7 L764.2,530.7 L765.2,530.7 L766.2,530.7 L767.3,530.7 L768.3,530.7 L769.3,530.7 L770.4,530.7 L771.4,530.7 L772.4,530.7 L773.5,530.7 L774.5,530.7 L775.5,530.7 L776.6,530.7 L777.6,530.7 L778.6,530.7 L779.6,530.8 L780.7,530.8 L781.7,530.8 L782.7,530.8 L783.8,530.8 L784.8,530.8 L785.8,530.8 L786.9,530.8 L787.9,530.8 L788.9,530.9 L789.9,530.9 L791.0,530.9 L792.0,530.9" stroke="#ff8000"/>
<path d="M128.0,503.7 L129.0,503.7 L129.9,503.7 L130.9,503.7 L131.8,503.7 L132.8,503.7 L133.7,503.7 L134.7,503.7 L135.6,503.7 L136.6,503.7 L137.5,503.8 L138.5,503.8 L139.4,503.8 L140.4,503.8 L141.3,503.8 L142.3,503.8 L143.2,503.8 L144.2,503.8 L145.1,503.8 L146.1,503.8 L147.0,503.8 L148.0,503.8 L148.9,503.8 L149.9,503.8 L150.8,503.8 L151.8,503.8 L152.7,503.8 L153.7,503.8 L154.6,503.8 L155.6,503.8 L156.5,503.8 L157.5,503.8 L158.4,503.7 L159.4,503.7 L160.3,503.7 L161.3,503.7 L162.2,503.7 L163.2,503.7 L164.1,503.7 L165.1,503.7 L166.0,503.7 L167.0,503.7 L167.9,503.7 L168.9,503.7 L169.8,503.7 L170.8,503.7 L171.7,503.7 L172.7,503.7 L173.6,503.7 L174.6,503.6 L175.5,503.6 L176.5,503.6 L177.4,503.6 L178.4,503.6 L179.3,503.6 L180.3,503.6 L181.2,503.6 L182.2,503.6 L183.1,503.6 L184.1,503.5 L185.0,503.5 L186.0,503.5 L186.9,503.5 L187.9,503.5 L188.8,503.5 L189.8,503.5 L190.7,503.5 L191.7,503.5 L192.6,503.4 L193.6,503.4 L194.5,503.4 L195.5,503.4 L196.4,503.4 L197.4,503.4 L198.3,503.4 L199.3,503.3 L200.2,503.3 L201.2,503.3 L202.1,503.3 L203.1,503.3 L204.0,503.3 L205.0,503.2 L205.9,503.2 L206.9,503.2 L207.8,503.2 L208.8,503.2 L209.7,503.2 L210.7,503.2 L211.6,503.1 L212.6,503.1 L213.5,503.1 L214.5,503.1 L215.4,503.1 L216.4,503.0 L217.3,503.0 L218.3,503.0 L219.2,503.0 L220.2,503.0 L221.1,503.0 L222.1,502.9 L223.0,502.9 L224.0,502.9 L224.9,502.9 L225.9,502.9 L226.8,502.8 L227.8,502.8 L228.7,502.8 L229.7,502.8 L230.6,502.8 L231.6,502.7 L232.5,502.7 L233.5,502.7 L234.4,502.7 L235.4,502.7 L236.3,502.6 L237.3,502.6 L238.2,502.6 L239.2,502.6 L240.1,502.5 L241.1,502.5 L242.0,502.5 L243.0,502.5 L243.9,502.5 L244.9,502.4 L245.8,502.4 L246.7,502.4 L247.7,502.4 L248.6,502.3 L249.6,502.3 L250.5,502.3 L251.5,502.3 L252.4,502.3 L253.4,502.2 L254.3,502.2 L255.3,502.2 L256.2,502.2 L257.2,502.1 L258.1,502.1 L259.1,502.1 L260.0,502.1 L261.0,502.0 L261.9,502.0 L262.9,502.0 L263.8,502.0 L264.8,502.0 L265.7,501.9 L266.7,501.9 L267.6,501.9 L268.6,501.9 L269.5,501.8 L270.5,501.8 L271.4,501.8 L272.4,501.8 L273.3,501.7 L274.3,501.7 L275.2,501.7 L276.2,501.7 L277.1,501.6 L278.1,501.6 L279.0,501.6 L280.0,501.6 L280.9,501.5 L281.9,501.5 L282.8,501.5 L283.8,501.5 L284.7,501.4 L285.7,501.4 L286.6,501.4 L287.6,501.4 L288.5,501.3 L289.5,501.3 L290.4,501.3 L291.4,501.3 L292.3,501.2 L293.3,501.2 L294.2,501.2 L295.2,501.2 L296.1,501.1 L297.1,501.1 L298.0,501.1 L299.0,501.1 L299.9,501.0 L300.9,501.0 L301.8,501.0 L302.8,501.0 L303.7,500.9 L304.7,500.9 L305.6,500.9 L306.6,500.9 L307.5,500.9 L308.5,500.8 L309.4,500.8 L310.4,500.8 L311.3,500.8 L312.3,500.7 L313.2,500.7 L314.2,500.7 L315.1,500.7 L316.1,500.6 L317.0,500.6 L318.0,500.6 L318.9,500.6 L319.9,500.5 L320.8,500.5 L321.8,500.5 L322.7,500.5 L323.7,500.4 L324.6,500.4 L325.6,500.4 L326.5,500.4 L327.5,500.4 L328.4,500.3 L329.4,500.3 L330.3,500.3 L331.3,500.3 L332.2,500.2 L333.2,500.2 L334.1,500.2 L335.1,500.2 L336.0,500.1 L337.0,500.1 L337.9,500.1 L338.9,500.1 L339.8,500.1 L340.8,500.0 L341.7,500.0 L342.7,500.0 L343.6,500.0 L344.6,500.0 L345.5,499.9 L346.5,499.9 L347.4,499.9 L348.4,499.9 L349.3,499.8 L350.3,499.8 L351.2,499.8 L352.2,499.8 L353.1,499.8 L354.1,499.7 L355.0,499.7 L356.0,499.7 L356.9,499.7 L357.9,499.7 L358.8,499.6 L359.8,499.6 L360.7,499.6 L361.7,499.6 L362.6,499.6 L363.6,499.6 L364.5,499.5 L365.5,499.5 L366.4,499.5 L367.4,499.5 L368.3,499.5 L369.3,499.4 L370.2,499.4 L371.2,499.4 L372.1,499.4 L373.1,499.4 L374.0,499.4 L375.0,499.3 L375.9,499.3 L376.9,499.3 L377.8,499.3 L378.8,499.3 L379.7,499.2 L380.7,499.2 L381.6,499.2 L382.6,499.2 L383.5,499.2 L384.5,499.2 L385.4,499.1 L386.4,499.1 L387.3,499.1 L388.3,499.1 L389.2,499.1 L390.2,499.1 L391.1,499.1 L392.1,499.0 L393.0,499.0 L394.0,499.0 L394.9,499.0 L395.9,499.0 L396.8,499.0 L397.8,498.9 L398.7,498.9 L399.7,498.9 L400.6,498.9 L401.6,498.9 L402.5,498.9 L403.5,498.9 L404.4,498.8 L405.4,498.8 L406.3,498.8 L407.3,498.8 L408.2,498.8 L409.2,498.8 L410.1,498.8 L411.1,498.7 L412.0,498.7 L413.0,498.7 L413.9,498.7 L414.9,498.7 L415.8,498.7 L416.8,498.7 L417.7,498.6 L418.7,498.6 L419.6,498.6 L420.6,498.6 L421.5,498.6 L422.5,498.6 L423.4,498.6 L424.4,498.5 L425.3,498.5 L426.3,498.5 L427.2,498.5 L428.2,498.5 L429.1,498.5 L430.1,498.5 L431.0,498.4 L432.0,498.4 L432.9,498.4 L433.9,498.4 L434.8,498.4 L435.8,498.4 L436.7,498.4 L437.7,498.4 L438.6,498.3 L439.6,498.3 L440.5,498.3 L441.5,498.3 L442.4,498.3 L443.4,498.3 L444.3,498.3 L445.3,498.2 L446.2,498.2 L447.2,498.2 L448.1,498.2 L449.1,498.2 L450.0,498.2 L451.0,498.2 L451.9,498.2 L452.9,498.1 L453.8,498.1 L454.8,498.1 L455.7,498.1 L456.7,498.1 L457.6,498.1 L458.6,498.1 L459.5,498.0 L460.5,498.0 L461.4,498.0 L462.4,498.0 L463.3,498.0 L464.3,498.0 L465.2,498.0 L466.2,497.9 L467.1,497.9 L468.1,497.9 L469.0,497.9 L470.0,497.9 L470.9,497.9 L471.9,497.9 L472.8,497.9 L473.8,497.8 L474.7,497.8 L475.7,497.8 L476.6,497.8 L477.6,497.8 L478.5,497.8 L479.5,497.8 L480.4,497.7 L481.4,497.7 L482.3,497.7 L483.3,497.7 L484.2,497.7 L485.2,497.7 L486.1,497.7 L487.1,497.6 L488.0,497.6 L489.0,497.6 L489.9,497.6 L490.9,497.6 L491.8,497.6 L492.8,497.6 L493.7,497.5 L494.7,497.5 L495.6,497.5 L496.6,497.5 L497.5,497.5 L498.5,497.5 L499.4,497.5 L500.4,497.4 L501.3,497.4 L502.3,497.4 L503.2,497.4 L504.2,497.4 L505.1,497.4 L506.1,497.3 L507.0,497.3 L508.0,497.3 L508.9,497.3 L509.9,497.3 L510.8,497.3 L511.8,497.3 L512.7,497.2 L513.7,497.2 L514.6,497.2 L515.6,497.2 L516.5,497.2 L517.5,497.2 L518.4,497.2 L519.4,497.1 L520.3,497.1 L521.3,497.1 L522.2,497.1 L523.2,497.1 L524.1,497.1 L525.1,497.0 L526.0,497.0 L527.0,497.0 L527.9,497.0 L528.9,497.0 L529.8,497.0 L530.8,496.9 L531.7,496.9 L532.7,496.9 L533.6,496.9 L534.6,496.9 L535.5,496.9 L536.5,496.9 L537.4,496.8 L538.4,496.8 L539.3,496.8 L540.3,496.8 L541.2,496.8 L542.2,496.8 L543.1,496.7 L544.1,496.7 L545.0,496.7 L546.0,496.7 L546.9,496.7 L547.9,496.7 L548.8,496.6 L549.8,496.6 L550.7,496.6 L551.7,496.6 L552.6,496.6 L553.6,496.6 L554.5,496.5 L555.5,496.5 L556.4,496.5 L557.4,496.5 L558.3,496.5 L559.3,496.5 L560.2,496.4 L561.2,496.4 L562.1,496.4 L563.1,496.4 L564.0,496.4 L565.0,496.4 L565.9,496.3 L566.9,496.3 L567.8,496.3 L568.8,496.3 L569.7,496.3 L570.7,496.3 L571.6,496.2 L572.6,496.2 L573.5,496.2 L574.5,496.2 L575.4,496.2 L576.4,496.2 L577.3,496.1 L578.3,496.1 L579.2,496.1 L580.2,496.1 L581.1,496.1 L582.1,496.1 L583.0,496.0 L584.0,496.0 L584.9,496.0 L585.9,496.0 L586.8,496.0 L587.8,495.9 L588.7,495.9 L589.7,495.9 L590.6,495.9 L591.6,495.9 L592.5,495.9 L593.5,495.8 L594.4,495.8 L595.4,495.8 L596.3,495.8 L597.3,495.8 L598.2,495.8 L599.2,495.7 L600.1,495.7 L601.1,495.7 L602.0,495.7 L603.0,495.7 L603.9,495.6 L604.9,495.6 L605.8,495.6 L606.8,495.6 L607.7,495.6 L608.7,495.6 L609.6,495.5 L610.6,495.5 L611.5,495.5 L612.5,495.5 L613.4,495.5 L614.4,495.4 L615.3,495.4 L616.3,495.4 L617.2,495.4 L618.2,495.4 L619.1,495.4 L620.1,495.3 L621.0,495.3 L622.0,495.3 L622.9,495.3 L623.9,495.3 L624.8,495.3 L625.8,495.2 L626.7,495.2 L627.7,495.2 L628.6,495.2 L629.6,495.2 L630.5,495.1 L631.5,495.1 L632.4,495.1 L633.4,495.1 L634.3,495.1 L635.3,495.1 L636.2,495.0 L637.2,495.0 L638.1,495.0 L639.1,495.0 L640.0,495.0 L641.0,495.0 L641.9,494.9 L642.9,494.9 L643.8,494.9 L644.8,494.9 L645.7,494.9 L646.7,494.8 L647.6,494.8 L648.6,494.8 L649.5,494.8 L650.5,494.8 L651.4,494.8 L652.4,494.7 L653.3,494.7 L654.3,494.7 L655.2,494.7 L656.2,494.7 L657.1,494.7 L658.1,494.6 L659.0,494.6 L660.0,494.6 L660.9,494.6 L661.9,494.6 L662.8,494.6 L663.8,494.5 L664.7,494.5 L665.7,494.5 L666.6,494.5 L667.6,494.5 L668.5,494.5 L669.5,494.4 L670.4,494.4 L671.4,494.4 L672.3,494.4 L673.3,494.4 L674.2,494.4 L675.1,494.3 L676.1,494.3 L677.0,494.3 L678.0,494.3 L678.9,494.3 L679.9,494.3 L680.8,494.2 L681.8,494.2 L682.7,494.2 L683.7,494.2 L684.6,494.2 L685.6,494.2 L686.5,494.2 L687.5,494.1 L688.4,494.1 L689.4,494.1 L690.3,494.1 L691.3,494.1 L692.2,494.1 L693.2,494.0 L694.1,494.0 L695.1,494.0 L696.0,494.0 L697.0,494.0 L697.9,494.0 L698.9,494.0 L699.8,493.9 L700.8,493.9 L701.7,493.9 L702.7,493.9 L703.6,493.9 L704.6,493.9 L705.5,493.9 L706.5,493.8 L707.4,493.8 L708.4,493.8 L709.3,493.8 L710.3,493.8 L711.2,493.8 L712.2,493.8 L713.1,493.7 L714.1,493.7 L715.0,493.7 L716.0,493.7 L716.9,493.7 L717.9,493.7 L718.8,493.7 L719.8,493.7 L720.7,493.6 L721.7,493.6 L722.6,493.6 L723.6,493.6 L724.5,493.6 L725.5,493.6 L726.4,493.6 L727.4,493.6 L728.3,493.5 L729.3,493.5 L730.2,493.5 L731.2,493.5 L732.1,493.5 L733.1,493.5 L734.0,493.5 L735.0,493.5 L735.9,493.5 L736.9,493.4 L737.8,493.4 L738.8,493.4 L739.7,493.4 L740.7,493.4 L741.6,493.4 L742.6,493.4 L743.5,493.4 L744.5,493.4 L745.4,493.3 L746.4,493.3 L747.3,493.3 L748.3,493.3 L749.2,493.3 L750.2,493.3 L751.1,493.3 L752.1,493.3 L753.0,493.3 L754.0,493.3 L754.9,493.3 L755.9,493.2 L756.8,493.2 L757.8,493.2 L758.7,493.2 L759.7,493.2 L760.6,493.2 L761.6,493.2 L762.5,493.2 L763.5,493.2 L764.4,493.2 L765.4,493.2 L766.3,493.2 L767.3,493.1 L768.2,493.1 L769.2,493.1 L770.1,493.1 L771.1,493.1 L772.0,493.1 L773.0,493.1 L773.9,493.1 L774.9,493.1 L775.8,493.1 L776.8,493.1 L777.7,493.1 L778.7,493.1 L779.6,493.1 L780.6,493.1 L781.5,493.0 L782.5,493.0 L783.4,493.0 L784.4,493.0 L785.3,493.0 L786.3,493.0 L787.2,493.0 L788.2,493.0 L789.1,493.0 L790.1,493.0 L791.0,493.0 L792.0,493.0" stroke="#8000ff" stroke-dasharray="8.0 12.0" stroke-dashoffset="2.80" stroke-opacity="0.5"/>
<path d="M128.0,550.5 L128.4,549.5 L128.9,548.5 L129.3,547.4 L129.8,546.4 L130.2,545.4 L130.7,544.4 L131.1,543.4 L131.6,542.4 L132.1,541.4 L132.5,540.4 L133.0,539.4 L133.4,538.4 L133.9,537.4 L134.4,536.4 L134.8,535.4 L135.3,534.4 L135.8,533.4 L136.3,532.5 L136.8,531.5 L137.3,530.5 L137.7,529.5 L138.2,528.6 L138.7,527.6 L139.3,526.6 L139.8,525.7 L140.3,524.7 L140.8,523.7 L141.3,522.8 L141.9,521.8 L142.4,520.9 L143.0,519.9 L143.5,519.0 L144.1,518.0 L144.6,517.1 L145.2,516.1 L145.8,515.2 L146.4,514.2 L147.0,513.3 L147.6,512.4 L148.2,511.4 L148.9,510.5 L149.5,509.6 L150.2,508.7 L150.9,507.9 L151.6,507.0 L152.3,506.2 L153.1,505.4 L153.8,504.6 L154.7,503.9 L155.5,503.2 L156.3,502.5 L157.2,501.8 L158.2,501.2 L159.1,500.6 L160.1,500.1 L161.1,499.6 L162.2,499.2 L163.2,498.8 L164.3,498.4 L165.4,498.1 L166.4,497.9 L167.5,497.7 L168.6,497.5 L169.7,497.4 L170.8,497.4 L171.9,497.5 L172.9,497.6 L174.0,497.7 L175.0,498.0 L176.0,498.3 L177.0,498.6 L177.9,499.1 L178.9,499.6 L179.8,500.1 L180.7,500.7 L181.6,501.4 L182.4,502.1 L183.3,502.8 L184.1,503.5 L184.9,504.3 L185.7,505.1 L186.5,506.0 L187.3,506.8 L188.1,507.7 L188.9,508.5 L189.7,509.4 L190.6,510.2 L191.4,511.0 L192.2,511.8 L193.0,512.6 L193.8,513.4 L194.7,514.1 L195.5,514.8 L196.4,515.5 L197.3,516.1 L198.2,516.7 L199.1,517.2 L200.0,517.7 L201.0,518.0 L202.0,518.4 L203.0,518.6 L204.1,518.8 L205.2,518.9 L206.2,518.9 L207.3,518.8 L208.4,518.7 L209.5,518.5 L210.5,518.1 L211.6,517.8 L212.6,517.3 L213.5,516.8 L214.5,516.2 L215.3,515.5 L216.2,514.8 L217.0,514.1 L217.8,513.3 L218.5,512.5 L219.3,511.7 L220.0,510.9 L220.6,510.0 L221.3,509.1 L221.9,508.2 L222.5,507.2 L223.1,506.3 L223.6,505.3 L224.2,504.3 L224.7,503.4 L225.3,502.4 L225.8,501.4 L226.3,500.4 L226.8,499.4 L227.3,498.4 L227.9,497.4 L228.4,496.4 L228.9,495.4 L229.4,494.4 L230.0,493.4 L230.5,492.5 L231.0,491.5 L231.6,490.5 L232.1,489.6 L232.6,488.6 L233.2,487.7 L233.7,486.7 L234.3,485.8 L234.8,484.8 L235.4,483.9 L235.9,482.9 L236.4,482.0 L237.0,481.1 L237.5,480.1 L238.1,479.2 L238.6,478.2 L239.2,477.3 L239.7,476.3" stroke="#ff0000" stroke-dasharray="7.2 6.9 1.1 6.9 1.1 6.9" stroke-dashoffset="29.10"/>
<path d="M239.7,476.3 L240.3,475.4 L240.8,474.5 L241.3,473.5 L241.9,472.6 L242.4,471.6 L243.0,470.6 L243.5,469.7 L244.0,468.7 L244.5,467.7 L245.1,466.8 L245.6,465.8 L246.1,464.8 L246.7,463.8 L247.2,462.9 L247.7,461.9 L248.3,460.9 L248.8,460.0 L249.4,459.0 L249.9,458.0 L250.5,457.1 L251.1,456.2 L251.7,455.2 L252.3,454.3 L252.9,453.4 L253.5,452.5 L254.1,451.6 L254.8,450.7 L255.5,449.8 L256.2,449.0 L256.9,448.2 L257.6,447.3 L258.4,446.5 L259.1,445.8 L259.9,445.0 L260.7,444.2 L261.6,443.5 L262.4,442.8 L263.3,442.1 L264.2,441.5 L265.1,440.8 L266.0,440.2 L267.0,439.6 L267.9,439.1 L268.9,438.5 L269.9,438.0 L270.9,437.5 L271.9,437.0 L272.9,436.6 L273.9,436.2 L275.0,435.8 L276.0,435.5 L277.1,435.1 L278.1,434.8 L279.2,434.6 L280.2,434.3 L281.3,434.1 L282.4,433.9 L283.4,433.7 L284.5,433.6 L285.6,433.4 L286.7,433.3 L287.8,433.2 L288.9,433.1 L289.9,433.0 L291.0,432.9 L292.1,432.7 L293.2,432.6 L294.3,432.5 L295.4,432.4 L296.5,432.3 L297.7,432.2 L298.8,432.1 L299.9,432.1 L301.0,432.0 L302.1,431.9 L303.2,431.8 L304.3,431.8 L305.4,431.7 L306.5,431.6 L307.7,431.6 L308.8,431.6 L309.9,431.5 L311.0,431.5 L312.1,431.5 L313.2,431.5 L314.3,431.5 L315.4,431.5 L316.5,431.6 L317.6,431.6 L318.7,431.7 L319.8,431.7 L320.9,431.8 L322.0,431.9 L323.1,432.0 L324.2,432.2 L325.3,432.3 L326.4,432.5 L327.4,432.6 L328.5,432.8 L329.6,433.0 L330.7,433.3 L331.7,433.5 L332.8,433.8 L333.8,434.1 L334.9,434.4 L335.9,434.7 L337.0,435.0 L338.0,435.3 L339.1,435.7 L340.1,436.0 L341.1,436.4 L342.2,436.8 L343.2,437.2 L344.2,437.6 L345.3,438.0 L346.3,438.4 L347.3,438.8 L348.3,439.2 L349.4,439.7 L350.4,440.1 L351.4,440.5 L352.4,441.0 L353.4,441.4 L354.4,441.8 L355.5,442.3 L356.5,442.7 L357.5,443.1 L358.5,443.5 L359.5,444.0 L360.6,444.4 L361.6,444.8 L362.6,445.2 L363.6,445.6 L364.6,446.0 L365.7,446.4 L366.7,446.8 L367.7,447.1 L368.8,447.5 L369.8,447.9 L370.8,448.2 L371.9,448.5 L372.9,448.8 L374.0,449.2 L375.0,449.5 L376.1,449.7 L377.1,450.0 L378.2,450.3 L379.2,450.5 L380.3,450.7 L381.4,450.9 L382.4,451.1 L383.5,451.3 L384.6,451.4 L385.7,451.6 L386.8,451.7 L387.9,451.8 L389.0,451.9 L390.1,452.0 L391.2,452.1 L392.3,452.2 L393.4,452.3 L394.5,452.3 L395.6,452.4 L396.7,452.4 L397.8,452.5 L398.9,452.5 L400.0,452.6 L401.1,452.6 L402.2,452.6 L403.4,452.7 L404.5,452.7 L405.6,452.8 L406.7,452.8 L407.8,452.8 L408.9,452.9 L410.0,452.9 L411.1,453.0 L412.2,453.1 L413.4,453.1 L414.5,453.2 L415.6,453.3 L416.7,453.4 L417.8,453.5 L418.8,453.6 L419.9,453.7 L421.0,453.9 L422.1,454.0 L423.2,454.2 L424.3,454.4 L425.3,454.6 L426.4,454.8 L427.5,455.0 L428.5,455.3 L429.6,455.6 L430.7,455.8 L431.7,456.1 L432.8,456.5 L433.8,456.8 L434.8,457.1 L435.9,457.5 L436.9,457.8 L438.0,458.2 L439.0,458.6 L440.0,459.0 L441.0,459.4 L442.1,459.8 L443.1,460.2 L444.1,460.6 L445.2,461.0 L446.2,461.4 L447.2,461.8 L448.2,462.2 L449.3,462.6 L450.3,463.0 L451.3,463.5 L452.4,463.9 L453.4,464.3 L454.4,464.7 L455.5,465.0 L456.5,465.4 L457.5,465.8 L458.6,466.2 L459.6,466.5 L460.7,466.9 L461.7,467.2 L462.8,467.6 L463.8,467.9 L464.9,468.2 L465.9,468.5 L467.0,468.9 L468.0,469.2 L469.1,469.5 L470.2,469.8 L471.2,470.1 L472.3,470.4 L473.3,470.7 L474.4,471.0 L475.5,471.3 L476.5,471.6 L477.6,471.9 L478.6,472.2 L479.7,472.6 L480.7,472.9 L481.8,473.2 L482.8,473.5 L483.9,473.9 L484.9,474.2 L486.0,474.5 L487.0,474.9 L488.1,475.3 L489.1,475.6 L490.1,476.0 L491.2,476.4 L492.2,476.8 L493.2,477.2 L494.2,477.6 L495.2,478.0 L496.3,478.4 L497.3,478.9 L498.3,479.3 L499.3,479.8 L500.3,480.2 L501.3,480.7 L502.3,481.2 L503.3,481.6 L504.3,482.1 L505.2,482.6 L506.2,483.1 L507.2,483.6 L508.2,484.1 L509.1,484.6 L510.1,485.1 L511.1,485.7 L512.0,486.2 L513.0,486.7 L514.0,487.3 L514.9,487.8 L515.9,488.4 L516.8,489.0 L517.8,489.5 L518.7,490.1 L519.6,490.7 L520.6,491.3 L521.5,491.9 L522.4,492.5 L523.3,493.1 L524.3,493.7 L525.2,494.3 L526.1,494.9 L527.0,495.6 L527.9,496.2 L528.8,496.8 L529.7,497.5 L530.6,498.1 L531.5,498.8 L532.3,499.4 L533.2,500.1 L534.1,500.7 L535.0,501.4 L535.9,502.1 L536.7,502.7 L537.6,503.4 L538.5,504.1 L539.3,504.8 L540.2,505.4 L541.1,506.1 L541.9,506.8 L542.8,507.5 L543.6,508.2 L544.5,508.9 L545.4,509.5 L546.2,510.2 L547.1,510.9 L547.9,511.6 L548.8,512.3 L549.7,513.0 L550.5,513.7 L551.4,514.3 L552.2,515.0 L553.1,515.7 L554.0,516.4 L554.8,517.0 L555.7,517.7 L556.6,518.4 L557.5,519.0 L558.3,519.7 L559.2,520.4 L560.1,521.0 L561.0,521.7 L561.9,522.3 L562.8,523.0 L563.7,523.6 L564.6,524.2 L565.5,524.9 L566.4,525.5 L567.3,526.1 L568.2,526.7 L569.1,527.3 L570.0,527.9 L571.0,528.5 L571.9,529.1 L572.9,529.6 L573.8,530.2 L574.8,530.8 L575.7,531.3 L576.7,531.9 L577.7,532.4 L578.6,532.9 L579.6,533.4 L580.6,533.9 L581.6,534.4 L582.6,534.9 L583.6,535.4 L584.6,535.9 L585.6,536.4 L586.6,536.8 L587.6,537.3 L588.6,537.7 L589.6,538.1 L590.6,538.5 L591.7,538.9 L592.7,539.3 L593.7,539.7 L594.8,540.1 L595.8,540.5 L596.8,540.8 L597.9,541.1 L598.9,541.5 L600.0,541.8 L601.0,542.1 L602.1,542.4 L603.1,542.7 L604.2,543.0 L605.3,543.2 L606.3,543.5 L607.4,543.7 L608.5,544.0 L609.5,544.2 L610.6,544.4 L611.7,544.7 L612.7,544.9 L613.8,545.1 L614.9,545.3 L616.0,545.4 L617.1,545.6 L618.1,545.8 L619.2,545.9 L620.3,546.1 L621.4,546.3 L622.5,546.4 L623.6,546.5 L624.7,546.7 L625.8,546.8 L626.9,546.9 L628.0,547.0 L629.1,547.1 L630.2,547.2 L631.3,547.3 L632.3,547.4 L633.4,547.5 L634.5,547.6 L635.7,547.7 L636.8,547.8 L637.9,547.9 L639.0,547.9 L640.1,548.0 L641.2,548.1 L642.3,548.1 L643.4,548.2 L644.5,548.3 L645.6,548.3 L646.7,548.4 L647.8,548.4 L648.9,548.5 L650.0,548.5 L651.1,548.6 L652.2,548.6 L653.3,548.7 L654.4,548.7 L655.5,548.8 L656.6,548.8 L657.7,548.9 L658.8,548.9 L659.9,549.0 L661.0,549.0 L662.1,549.1 L663.2,549.1 L664.3,549.2 L665.4,549.2 L666.5,549.2 L667.6,549.3 L668.7,549.3 L669.8,549.3 L670.9,549.4 L672.0,549.4 L673.1,549.5 L674.2,549.5 L675.3,549.5 L676.4,549.5 L677.5,549.6 L678.6,549.6 L679.7,549.6 L680.8,549.7 L681.9,549.7 L683.0,549.7 L684.1,549.8 L685.2,549.8 L686.3,549.8 L687.4,549.8 L688.5,549.9 L689.6,549.9 L690.7,549.9 L691.8,549.9 L692.9,549.9 L694.0,550.0 L695.1,550.0 L696.2,550.0 L697.3,550.0 L698.4,550.0 L699.5,550.1 L700.6,550.1 L701.7,550.1 L702.8,550.1 L703.9,550.1 L705.0,550.1 L706.1,550.2 L707.2,550.2 L708.3,550.2 L709.4,550.2 L710.5,550.2 L711.6,550.2 L712.7,550.2 L713.8,550.2 L714.9,550.3 L716.0,550.3 L717.1,550.3 L718.2,550.3 L719.3,550.3 L720.4,550.3 L721.5,550.3 L722.6,550.3 L723.7,550.3 L724.8,550.3 L725.9,550.3 L727.0,550.3 L728.1,550.4 L729.2,550.4 L730.3,550.4 L731.4,550.4 L732.5,550.4 L733.6,550.4 L734.7,550.4 L735.8,550.4 L736.9,550.4 L738.0,550.4 L739.1,550.4 L740.2,550.4 L741.3,550.4 L742.4,550.4 L743.5,550.4 L744.6,550.4 L745.7,550.4 L746.8,550.4 L747.9,550.4 L749.0,550.4 L750.1,550.4 L751.2,550.4 L752.3,550.4 L753.4,550.4 L754.5,550.4 L755.6,550.4 L756.7,550.4 L757.8,550.4 L758.9,550.4 L760.0,550.4 L761.1,550.4 L762.2,550.4 L763.3,550.4 L764.4,550.4 L765.5,550.4 L766.6,550.4 L767.7,550.4 L768.8,550.5 L769.9,550.5 L771.0,550.5 L772.1,550.5 L773.2,550.5 L774.3,550.5 L775.4,550.5 L776.5,550.5 L777.6,550.5 L778.7,550.5 L779.8,550.5 L781.0,550.5 L782.1,550.5 L783.2,550.5 L784.3,550.5 L785.4,550.5 L786.5,550.5 L787.6,550.5 L788.7,550.5 L789.8,550.5 L790.9,550.5 L792.0,550.5" stroke="#ff0000" stroke-dasharray="7.2 6.9 1.1 6.9 1.1 6.9" stroke-dashoffset="13.60"/>
<path d="M128.0,550.5 L128.4,549.4 L128.9,548.2 L129.3,547.1 L129.7,545.9 L130.1,544.8 L130.5,543.6 L131.0,542.5 L131.4,541.3 L131.8,540.1 L132.2,539.0 L132.6,537.8 L133.0,536.6 L133.3,535.5 L133.7,534.3 L134.1,533.1 L134.5,531.9 L134.9,530.7 L135.2,529.5 L135.6,528.4 L136.0,527.2 L136.4,526.0 L136.7,524.8 L137.1,523.6 L137.4,522.4 L137.8,521.2 L138.2,520.0 L138.5,518.8 L138.9,517.6 L139.2,516.4 L139.6,515.2 L139.9,514.0 L140.3,512.8 L140.6,511.6 L141.0,510.4 L141.3,509.2 L141.7,508.0 L142.0,506.8 L142.4,505.6 L142.7,504.5 L143.1,503.3 L143.4,502.1 L143.8,500.9 L144.1,499.7 L144.5,498.5 L144.8,497.4 L145.2,496.2 L145.5,495.0 L145.9,493.8 L146.2,492.7 L146.6,491.5 L146.9,490.4 L147.3,489.2 L147.7,488.1 L148.1,486.9 L148.5,485.8 L148.9,484.6 L149.3,483.5 L149.7,482.4 L150.2,481.2 L150.7,480.1 L151.2,479.0 L151.7,477.9 L152.2,476.8 L152.8,475.7 L153.4,474.6 L154.0,473.5 L154.6,472.5 L155.3,471.4 L156.0,470.3 L156.7,469.3 L157.5,468.2 L158.3,467.2 L159.1,466.1 L160.0,465.1 L160.9,464.1 L161.8,463.2 L162.8,462.3 L163.8,461.5 L164.8,460.8 L165.8,460.1 L166.9,459.6 L167.9,459.2 L169.0,459.0 L170.1,458.9 L171.2,459.0 L172.3,459.2 L173.4,459.6 L174.5,460.1 L175.6,460.8 L176.6,461.5 L177.6,462.3 L178.6,463.2 L179.6,464.1 L180.4,465.1 L181.3,466.1 L182.1,467.0 L182.8,468.0 L183.5,469.0 L184.2,470.1 L184.8,471.1 L185.4,472.1 L186.0,473.2 L186.6,474.2 L187.2,475.3 L187.7,476.4 L188.3,477.4 L188.9,478.5 L189.5,479.6 L190.1,480.7 L190.8,481.8 L191.4,482.9 L192.1,483.9 L192.8,485.0 L193.5,486.1 L194.3,487.1 L195.1,488.1 L195.9,489.0 L196.8,489.9 L197.7,490.8 L198.6,491.6 L199.6,492.4 L200.7,493.1 L201.7,493.7 L202.8,494.3 L204.0,494.7 L205.2,495.1 L206.4,495.4 L207.7,495.6 L208.9,495.7 L210.1,495.6 L211.2,495.3 L212.2,494.9 L213.1,494.3 L213.9,493.4 L214.6,492.4 L215.3,491.4 L215.9,490.3 L216.5,489.2 L217.1,488.1 L217.7,487.0 L218.3,485.9 L218.9,484.7 L219.4,483.6 L220.0,482.5 L220.5,481.4 L221.0,480.3 L221.6,479.1 L222.1,478.0 L222.6,476.9 L223.1,475.8 L223.6,474.6 L224.1,473.5 L224.5,472.3 L225.0,471.2 L225.5,470.1 L225.9,468.9 L226.4,467.8 L226.8,466.6 L227.3,465.5 L227.7,464.3 L228.1,463.1 L228.5,462.0 L228.9,460.8 L229.3,459.7 L229.7,458.5 L230.1,457.3 L230.5,456.2 L230.9,455.0 L231.3,453.8 L231.7,452.6 L232.1,451.5 L232.5,450.3 L232.8,449.1 L233.2,447.9 L233.6,446.8 L233.9,445.6 L234.3,444.4 L234.7,443.2 L235.0,442.0 L235.4,440.9 L235.7,439.7 L236.1,438.5 L236.5,437.3 L236.8,436.1 L237.2,434.9 L237.5,433.7 L237.9,432.5 L238.2,431.3 L238.6,430.1 L239.0,429.0 L239.3,427.8 L239.7,426.6 L240.1,425.4 L240.4,424.2 L240.8,423.0 L241.2,421.8 L241.6,420.7 L242.0,419.5 L242.4,418.3 L242.8,417.1 L243.2,416.0 L243.6,414.8 L244.0,413.7 L244.5,412.5 L244.9,411.3 L245.4,410.2 L245.8,409.1 L246.3,407.9 L246.8,406.8 L247.3,405.7 L247.8,404.5 L248.3,403.4 L248.8,402.3 L249.3,401.2 L249.9,400.1 L250.5,399.1 L251.0,398.0 L251.6,396.9 L252.2,395.8 L252.9,394.8 L253.5,393.8 L254.2,392.7 L254.9,391.7 L255.7,390.8 L256.4,389.8 L257.3,388.9 L258.2,388.0 L259.1,387.1 L260.1,386.3 L261.1,385.5 L262.1,384.7 L263.2,384.1 L264.3,383.4 L265.4,382.9 L266.5,382.4 L267.7,382.0 L268.9,381.7 L270.1,381.5 L271.3,381.3 L272.5,381.3 L273.7,381.3 L274.9,381.4 L276.1,381.6 L277.3,381.9 L278.5,382.3 L279.7,382.7 L280.9,383.1 L282.0,383.6 L283.1,384.2 L284.2,384.8 L285.3,385.4 L286.4,386.1 L287.4,386.8 L288.4,387.6 L289.3,388.3 L290.3,389.1 L291.2,389.9 L292.2,390.7 L293.1,391.5 L294.0,392.3 L295.0,393.1 L295.9,393.9 L296.8,394.7 L297.8,395.5 L298.7,396.3 L299.7,397.1 L300.6,397.9 L301.6,398.7 L302.6,399.5 L303.5,400.2 L304.5,401.0 L305.5,401.8 L306.4,402.6 L307.4,403.3 L308.3,404.1 L309.3,404.9 L310.2,405.7 L311.2,406.5 L312.1,407.3 L313.0,408.1 L314.0,408.9 L314.9,409.7 L315.8,410.6 L316.7,411.4 L317.6,412.2 L318.6,413.0 L319.5,413.8 L320.4,414.7 L321.3,415.5 L322.2,416.3 L323.2,417.1 L324.1,418.0 L325.0,418.8 L325.9,419.6 L326.8,420.4 L327.8,421.3 L328.7,422.1 L329.6,422.9 L330.5,423.7 L331.5,424.5 L332.4,425.4 L333.3,426.2 L334.2,427.0 L335.2,427.8 L336.1,428.7 L337.0,429.5 L337.9,430.3 L338.9,431.1 L339.8,431.9 L340.7,432.7 L341.7,433.6 L342.6,434.4 L343.5,435.2 L344.5,436.0 L345.4,436.8 L346.3,437.6 L347.3,438.4 L348.2,439.2 L349.2,440.0 L350.1,440.8 L351.0,441.6 L352.0,442.4 L352.9,443.2 L353.9,444.0 L354.8,444.8 L355.8,445.6 L356.7,446.4 L357.7,447.2 L358.6,448.0 L359.6,448.8 L360.6,449.6 L361.5,450.3 L362.5,451.1 L363.4,451.9 L364.4,452.7 L365.4,453.4 L366.3,454.2 L367.3,455.0 L368.3,455.7 L369.2,456.5 L370.2,457.2 L371.2,458.0 L372.2,458.8 L373.1,459.5 L374.1,460.2 L375.1,461.0 L376.1,461.7 L377.1,462.5 L378.0,463.2 L379.0,464.0 L380.0,464.7 L381.0,465.4 L382.0,466.1 L383.0,466.9 L384.0,467.6 L385.0,468.3 L386.0,469.0 L387.0,469.8 L388.0,470.5 L389.0,471.2 L390.0,471.9 L391.0,472.6 L392.0,473.3 L393.0,474.0 L394.0,474.7 L395.0,475.4 L396.1,476.1 L397.1,476.8 L398.1,477.5 L399.1,478.2 L400.1,478.9 L401.2,479.6 L402.2,480.3 L403.2,481.0 L404.2,481.7 L405.3,482.4 L406.3,483.1 L407.3,483.7 L408.4,484.4 L409.4,485.1 L410.4,485.8 L411.5,486.5 L412.5,487.1 L413.6,487.8 L414.6,488.5 L415.7,489.1 L416.7,489.8 L417.8,490.4 L418.8,491.1 L419.9,491.8 L420.9,492.4 L422.0,493.1 L423.0,493.7 L424.1,494.3 L425.2,495.0 L426.2,495.6 L427.3,496.2 L428.3,496.9 L429.4,497.5 L430.5,498.1 L431.6,498.8 L432.6,499.4 L433.7,500.0 L434.8,500.6 L435.9,501.2 L437.0,501.8 L438.0,502.4 L439.1,503.0 L440.2,503.6 L441.3,504.2 L442.4,504.8 L443.5,505.3 L444.6,505.9 L445.7,506.5 L446.8,507.1 L447.9,507.6 L449.0,508.2 L450.1,508.7 L451.2,509.3 L452.3,509.8 L453.4,510.4 L454.5,510.9 L455.6,511.5 L456.7,512.0 L457.9,512.5 L459.0,513.0 L460.1,513.6 L461.2,514.1 L462.4,514.6 L463.5,515.1 L464.6,515.6 L465.7,516.1 L466.9,516.5 L468.0,517.0 L469.1,517.5 L470.3,518.0 L471.4,518.4 L472.6,518.9 L473.7,519.3 L474.9,519.8 L476.0,520.2 L477.2,520.7 L478.3,521.1 L479.5,521.5 L480.6,522.0 L481.8,522.4 L483.0,522.8 L484.1,523.2 L485.3,523.6 L486.5,524.0 L487.6,524.3 L488.8,524.7 L490.0,525.1 L491.1,525.5 L492.3,525.8 L493.5,526.2 L494.7,526.5 L495.9,526.9 L497.1,527.2 L498.2,527.5 L499.4,527.9 L500.6,528.2 L501.8,528.5 L503.0,528.8 L504.2,529.1 L505.4,529.4 L506.6,529.7 L507.8,530.0 L509.0,530.3 L510.2,530.6 L511.4,530.8 L512.6,531.1 L513.8,531.4 L515.0,531.7 L516.2,531.9 L517.5,532.2 L518.7,532.4 L519.9,532.7 L521.1,532.9 L522.3,533.2 L523.5,533.4 L524.7,533.7 L526.0,533.9 L527.2,534.1 L528.4,534.4 L529.6,534.6 L530.8,534.8 L532.0,535.0 L533.3,535.2 L534.5,535.5 L535.7,535.7 L536.9,535.9 L538.1,536.1 L539.4,536.3 L540.6,536.5 L541.8,536.7 L543.0,536.9 L544.3,537.1 L545.5,537.3 L546.7,537.5 L547.9,537.7 L549.1,537.9 L550.4,538.1 L551.6,538.3 L552.8,538.5 L554.0,538.7 L555.2,538.9 L556.5,539.1 L557.7,539.3 L558.9,539.5 L560.1,539.7 L561.4,539.9 L562.6,540.0 L563.8,540.2 L565.0,540.4 L566.2,540.6 L567.5,540.8 L568.7,540.9 L569.9,541.1 L571.1,541.3 L572.4,541.4 L573.6,541.6 L574.8,541.8 L576.0,541.9 L577.2,542.1 L578.5,542.2 L579.7,542.4 L580.9,542.5 L582.1,542.7 L583.4,542.8 L584.6,543.0 L585.8,543.1 L587.0,543.2 L588.3,543.4 L589.5,543.5 L590.7,543.6 L592.0,543.7 L593.2,543.9 L594.4,544.0 L595.6,544.1 L596.9,544.2 L598.1,544.3 L599.3,544.4 L600.6,544.5 L601.8,544.6 L603.0,544.7 L604.3,544.8 L605.5,544.9 L606.7,545.0 L607.9,545.1 L609.2,545.2 L610.4,545.3 L611.6,545.4 L612.9,545.4 L614.1,545.5 L615.3,545.6 L616.6,545.7 L617.8,545.8 L619.0,545.8 L620.3,545.9 L621.5,546.0 L622.7,546.0 L624.0,546.1 L625.2,546.2 L626.4,546.2 L627.7,546.3 L628.9,546.3 L630.1,546.4 L631.4,546.5 L632.6,546.5 L633.9,546.6 L635.1,546.6 L636.3,546.7 L637.6,546.7 L638.8,546.8 L640.0,546.8 L641.3,546.9 L642.5,546.9 L643.7,547.0 L645.0,547.0 L646.2,547.1 L647.5,547.1 L648.7,547.1 L649.9,547.2 L651.2,547.2 L652.4,547.3 L653.6,547.3 L654.9,547.4 L656.1,547.4 L657.3,547.4 L658.6,547.5 L659.8,547.5 L661.1,547.5 L662.3,547.6 L663.5,547.6 L664.8,547.7 L666.0,547.7 L667.2,547.7 L668.5,547.8 L669.7,547.8 L670.9,547.8 L672.2,547.9 L673.4,547.9 L674.7,548.0 L675.9,548.0 L677.1,548.0 L678.4,548.1 L679.6,548.1 L680.8,548.1 L682.1,548.2 L683.3,548.2 L684.5,548.2 L685.8,548.3 L687.0,548.3 L688.2,548.4 L689.5,548.4 L690.7,548.4 L691.9,548.5 L693.2,548.5 L694.4,548.5 L695.6,548.6 L696.9,548.6 L698.1,548.7 L699.4,548.7 L700.6,548.7 L701.8,548.8 L703.1,548.8 L704.3,548.8 L705.5,548.9 L706.8,548.9 L708.0,548.9 L709.2,549.0 L710.5,549.0 L711.7,549.0 L712.9,549.1 L714.2,549.1 L715.4,549.1 L716.6,549.2 L717.9,549.2 L719.1,549.2 L720.3,549.3 L721.6,549.3 L722.8,549.3 L724.0,549.4 L725.3,549.4 L726.5,549.4 L727.7,549.5 L729.0,549.5 L730.2,549.5 L731.4,549.6 L732.7,549.6 L733.9,549.6 L735.1,549.6 L736.4,549.7 L737.6,549.7 L738.9,549.7 L740.1,549.8 L741.3,549.8 L742.6,549.8 L743.8,549.8 L745.0,549.9 L746.3,549.9 L747.5,549.9 L748.7,549.9 L750.0,550.0 L751.2,550.0 L752.4,550.0 L753.7,550.0 L754.9,550.0 L756.1,550.1 L757.4,550.1 L758.6,550.1 L759.8,550.1 L761.1,550.1 L762.3,550.2 L763.6,550.2 L764.8,550.2 L766.0,550.2 L767.3,550.2 L768.5,550.2 L769.7,550.3 L771.0,550.3 L772.2,550.3 L773.4,550.3 L774.7,550.3 L775.9,550.3 L777.2,550.3 L778.4,550.3 L779.6,550.4 L780.9,550.4 L782.1,550.4 L783.3,550.4 L784.6,550.4 L785.8,550.4 L787.0,550.4 L788.3,550.4 L789.5,550.4 L790.8,550.4 L792.0,550.4" stroke="#0000ff" stroke-dasharray="7.2 6.9 1.1 6.9 1.1 6.9" stroke-dashoffset="27.45"/>
</g>
<g fill="none" stroke-width="2.7" stroke-linecap="round">
<path d="M429.7,58.9 H477.6" stroke="#ff0000"/>
<path d="M429.7,88.2 H477.6" stroke="#ff0000" stroke-dasharray="8.0 12.0"/>
<path d="M429.7,117.6 H477.6" stroke="#ff0000" stroke-dasharray="7.2 6.9 1.1 6.9 1.1 6.9"/>
<path d="M429.7,144.4 H477.6" stroke="#0000ff"/>
<path d="M429.7,170.5 H477.6" stroke="#0000ff" stroke-dasharray="8.0 12.0"/>
<path d="M429.7,197.5 H477.6" stroke="#0000ff" stroke-dasharray="7.2 6.9 1.1 6.9 1.1 6.9"/>
<path d="M429.7,226.4 H477.6" stroke="#ff8000"/>
<path d="M429.7,252.9 H477.6" stroke="#8000ff" stroke-dasharray="8.0 12.0" stroke-opacity="0.5"/>
</g>
<g font-family="Liberation Sans, sans-serif" fill="#000" stroke="#000" stroke-width="0.25">
<text transform="translate(484.1,66.4) scale(1,1.07)" font-size="21.95" stroke-width="0.33">TD-LVC-2018+χ<tspan dx="1.4" font-size="21.27">EFT+GMR</tspan></text>
<text transform="translate(484.1,95.7) scale(1,1.07)" font-size="21.95" stroke-width="0.33">TD-De-2018+χ<tspan dx="0.2" font-size="21.27">EFT+GMR</tspan></text>
<text transform="translate(484.1,125.1) scale(1,1.07)" font-size="21.95" stroke-width="0.33">TD-Coughlin-2019+χ<tspan dx="0.6" font-size="21.27">EFT+GMR</tspan></text>
<text transform="translate(484.1,151.9) scale(1,1.07)" font-size="21.95" stroke-width="0.33">TD-LVC-2018</text>
<text transform="translate(484.1,178.0) scale(1,1.07)" font-size="21.95" stroke-width="0.33">TD-De-2018</text>
<text transform="translate(484.1,205.0) scale(1,1.07)" font-size="21.95" stroke-width="0.33">TD-Coughlin-2019</text>
<text transform="translate(484.1,233.9) scale(1,1.07)" font-size="21.95" stroke-width="0.33">χ<tspan dx="0.0" font-size="21.27">EFT</tspan></text>
<text transform="translate(484.1,260.4) scale(1,1.07)" font-size="21.95" stroke-width="0.33">GMR</text>
<text transform="translate(128.0,576.0) scale(1,1.06)" font-size="19.2" text-anchor="middle">-10</text>
<text transform="translate(211.0,576.0) scale(1,1.06)" font-size="19.2" text-anchor="middle">0</text>
<text transform="translate(294.0,576.0) scale(1,1.06)" font-size="19.2" text-anchor="middle">10</text>
<text transform="translate(377.0,576.0) scale(1,1.06)" font-size="19.2" text-anchor="middle">20</text>
<text transform="translate(460.0,576.0) scale(1,1.06)" font-size="19.2" text-anchor="middle">30</text>
<text transform="translate(543.0,576.0) scale(1,1.06)" font-size="19.2" text-anchor="middle">40</text>
<text transform="translate(626.0,576.0) scale(1,1.06)" font-size="19.2" text-anchor="middle">50</text>
<text transform="translate(709.0,576.0) scale(1,1.06)" font-size="19.2" text-anchor="middle">60</text>
<text transform="translate(792.0,576.0) scale(1,1.06)" font-size="19.2" text-anchor="middle">70</text>
<text transform="translate(118.3,556.8) scale(1,1.06)" font-size="19.2" text-anchor="end">0,00</text>
<text transform="translate(118.3,387.4) scale(1,1.06)" font-size="19.2" text-anchor="end">0,04</text>
<text transform="translate(118.3,217.9) scale(1,1.06)" font-size="19.2" text-anchor="end">0,08</text>
<text transform="translate(118.3,48.5) scale(1,1.06)" font-size="19.2" text-anchor="end">0,12</text>
<text transform="translate(133.9,68.7) scale(1,1.035)" font-size="22.95">(a)</text>
<text transform="translate(681.4,273.7) scale(1,1.035)" font-size="18.9" font-weight="bold" stroke="none">Prior set #1</text>
<text transform="translate(54.3,307.6) rotate(-90)" font-size="23.6">PDF</text>
<text x="405.3" y="611.2" font-size="23.6">L<tspan font-size="13.9" dy="7.8">sym</tspan></text><text x="451.8" y="611.2" font-size="23.1">(MeV)</text>
</g>
</svg>
</body></html>
